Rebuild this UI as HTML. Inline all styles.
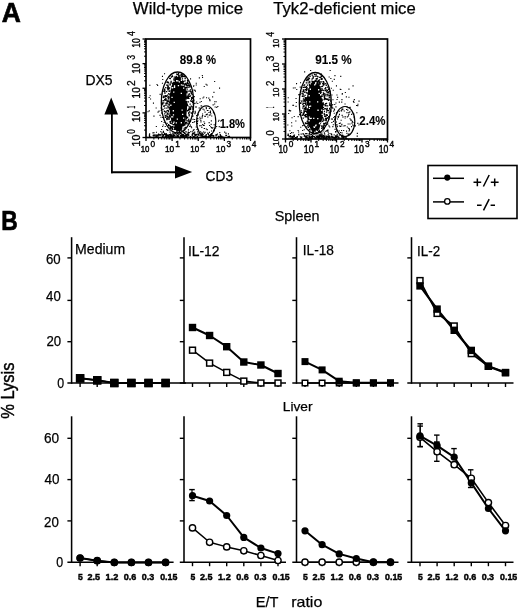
<!DOCTYPE html>
<html><head><meta charset="utf-8"><style>
html,body{margin:0;padding:0;background:#fff;width:520px;height:610px;overflow:hidden}
svg{display:block;filter:grayscale(1)}
text{font-family:"Liberation Sans", sans-serif;fill:#000}
</style></head><body>
<svg width="520" height="610" viewBox="0 0 520 610">
<text x="1.70" y="21.80" font-size="28.36" font-weight="bold" textLength="19.09" lengthAdjust="spacingAndGlyphs" stroke="#000" stroke-width="0.7" >A</text>
<text x="132.80" y="13.96" font-size="16.09" textLength="110.19" lengthAdjust="spacingAndGlyphs" stroke="#000" stroke-width="0.25" >Wild-type mice</text>
<text x="273.30" y="13.96" font-size="16.09" textLength="142.38" lengthAdjust="spacingAndGlyphs" stroke="#000" stroke-width="0.25" >Tyk2-deficient mice</text>
<ellipse cx="178.3" cy="104" rx="8.8" ry="27.5" fill="#000"/>
<path d="M176.0 106.1h1.3v1.3h-1.3zM191.2 100.4h1.3v1.3h-1.3zM177.8 107.8h1.3v1.3h-1.3zM167.3 103.2h1.3v1.3h-1.3zM181.7 120.4h1.3v1.3h-1.3zM164.3 90.5h1.3v1.3h-1.3zM182.5 109.5h1.3v1.3h-1.3zM178.4 75.6h1.3v1.3h-1.3zM167.5 86.8h1.3v1.3h-1.3zM162.3 100.3h1.3v1.3h-1.3zM175.6 123.4h1.3v1.3h-1.3zM178.1 111.1h1.3v1.3h-1.3zM177.5 112.4h1.3v1.3h-1.3zM176.1 89.0h1.3v1.3h-1.3zM188.5 115.2h1.3v1.3h-1.3zM171.5 86.0h1.3v1.3h-1.3zM170.7 76.3h1.3v1.3h-1.3zM186.1 96.4h1.3v1.3h-1.3zM188.7 95.6h1.3v1.3h-1.3zM190.8 100.7h1.3v1.3h-1.3zM163.7 110.4h1.3v1.3h-1.3zM186.5 88.5h1.3v1.3h-1.3zM164.1 92.3h1.3v1.3h-1.3zM165.1 87.0h1.3v1.3h-1.3zM187.1 82.8h1.3v1.3h-1.3zM179.4 99.3h1.3v1.3h-1.3zM167.5 116.6h1.3v1.3h-1.3zM165.5 111.3h1.3v1.3h-1.3zM165.1 97.7h1.3v1.3h-1.3zM168.2 88.5h1.3v1.3h-1.3zM171.2 126.0h1.3v1.3h-1.3zM168.1 96.1h1.3v1.3h-1.3zM189.0 111.2h1.3v1.3h-1.3zM168.2 87.8h1.3v1.3h-1.3zM186.3 92.1h1.3v1.3h-1.3zM170.9 76.5h1.3v1.3h-1.3zM164.2 107.5h1.3v1.3h-1.3zM169.2 108.7h1.3v1.3h-1.3zM173.3 99.6h1.3v1.3h-1.3zM192.4 101.5h1.3v1.3h-1.3zM179.9 124.9h1.3v1.3h-1.3zM167.2 81.4h1.3v1.3h-1.3zM169.4 83.6h1.3v1.3h-1.3zM189.9 108.8h1.3v1.3h-1.3zM175.0 78.3h1.3v1.3h-1.3zM169.0 115.0h1.3v1.3h-1.3zM169.6 122.2h1.3v1.3h-1.3zM180.6 89.9h1.3v1.3h-1.3zM167.0 115.9h1.3v1.3h-1.3zM179.4 124.0h1.3v1.3h-1.3zM181.2 89.1h1.3v1.3h-1.3zM175.7 75.7h1.3v1.3h-1.3zM167.0 94.5h1.3v1.3h-1.3zM179.8 80.0h1.3v1.3h-1.3zM173.0 126.3h1.3v1.3h-1.3zM183.7 107.7h1.3v1.3h-1.3zM176.9 116.6h1.3v1.3h-1.3zM163.7 105.3h1.3v1.3h-1.3zM185.2 126.9h1.3v1.3h-1.3zM185.2 114.9h1.3v1.3h-1.3zM172.7 113.8h1.3v1.3h-1.3zM174.8 120.2h1.3v1.3h-1.3zM189.3 106.9h1.3v1.3h-1.3zM181.5 95.3h1.3v1.3h-1.3zM180.2 109.1h1.3v1.3h-1.3zM163.9 111.0h1.3v1.3h-1.3zM184.9 95.7h1.3v1.3h-1.3zM185.1 107.4h1.3v1.3h-1.3zM175.6 123.1h1.3v1.3h-1.3zM162.3 108.7h1.3v1.3h-1.3zM176.9 86.0h1.3v1.3h-1.3zM183.9 102.3h1.3v1.3h-1.3zM181.2 128.1h1.3v1.3h-1.3zM171.1 113.4h1.3v1.3h-1.3zM167.9 82.3h1.3v1.3h-1.3zM190.6 112.3h1.3v1.3h-1.3zM175.6 126.4h1.3v1.3h-1.3zM171.9 112.6h1.3v1.3h-1.3zM167.7 98.3h1.3v1.3h-1.3zM189.8 95.4h1.3v1.3h-1.3zM180.2 91.3h1.3v1.3h-1.3zM165.7 102.3h1.3v1.3h-1.3zM170.3 82.3h1.3v1.3h-1.3zM175.9 88.8h1.3v1.3h-1.3zM168.2 97.3h1.3v1.3h-1.3zM181.6 102.1h1.3v1.3h-1.3zM171.5 123.2h1.3v1.3h-1.3zM193.1 99.6h1.3v1.3h-1.3zM184.3 106.8h1.3v1.3h-1.3zM171.3 120.3h1.3v1.3h-1.3zM176.0 73.5h1.3v1.3h-1.3zM188.2 86.5h1.3v1.3h-1.3zM181.7 99.2h1.3v1.3h-1.3zM181.7 112.0h1.3v1.3h-1.3zM183.5 84.2h1.3v1.3h-1.3zM176.7 82.9h1.3v1.3h-1.3zM184.4 82.9h1.3v1.3h-1.3zM170.1 93.1h1.3v1.3h-1.3zM183.9 103.7h1.3v1.3h-1.3zM181.2 118.1h1.3v1.3h-1.3zM174.0 120.3h1.3v1.3h-1.3zM165.5 99.7h1.3v1.3h-1.3zM181.6 127.5h1.3v1.3h-1.3zM173.5 106.7h1.3v1.3h-1.3zM189.8 120.6h1.3v1.3h-1.3zM191.9 100.3h1.3v1.3h-1.3zM182.4 84.5h1.3v1.3h-1.3zM184.7 121.9h1.3v1.3h-1.3zM182.1 115.8h1.3v1.3h-1.3zM178.7 120.2h1.3v1.3h-1.3zM171.7 127.5h1.3v1.3h-1.3zM189.0 93.3h1.3v1.3h-1.3zM164.0 98.9h1.3v1.3h-1.3zM179.1 118.9h1.3v1.3h-1.3zM177.1 73.7h1.3v1.3h-1.3zM187.2 82.5h1.3v1.3h-1.3zM172.2 120.1h1.3v1.3h-1.3zM178.0 116.1h1.3v1.3h-1.3zM188.5 114.1h1.3v1.3h-1.3zM191.9 102.0h1.3v1.3h-1.3zM168.5 104.1h1.3v1.3h-1.3zM170.7 116.5h1.3v1.3h-1.3zM182.0 103.9h1.3v1.3h-1.3zM188.6 106.2h1.3v1.3h-1.3zM171.4 95.3h1.3v1.3h-1.3zM168.0 123.9h1.3v1.3h-1.3zM192.7 104.0h1.3v1.3h-1.3zM179.9 84.3h1.3v1.3h-1.3zM178.7 102.7h1.3v1.3h-1.3zM180.9 73.7h1.3v1.3h-1.3zM192.7 103.5h1.3v1.3h-1.3zM174.3 120.9h1.3v1.3h-1.3zM179.5 102.0h1.3v1.3h-1.3zM183.7 76.0h1.3v1.3h-1.3zM178.8 97.2h1.3v1.3h-1.3zM170.0 100.9h1.3v1.3h-1.3zM165.4 98.5h1.3v1.3h-1.3zM176.7 91.4h1.3v1.3h-1.3zM167.5 109.7h1.3v1.3h-1.3zM167.6 85.9h1.3v1.3h-1.3zM183.6 91.6h1.3v1.3h-1.3zM172.8 109.8h1.3v1.3h-1.3zM164.7 116.6h1.3v1.3h-1.3zM165.3 103.1h1.3v1.3h-1.3zM169.4 84.1h1.3v1.3h-1.3zM178.5 98.6h1.3v1.3h-1.3zM173.5 97.2h1.3v1.3h-1.3zM178.5 81.7h1.3v1.3h-1.3zM167.9 110.5h1.3v1.3h-1.3zM182.0 104.3h1.3v1.3h-1.3zM188.9 109.3h1.3v1.3h-1.3zM189.1 86.2h1.3v1.3h-1.3zM185.3 121.4h1.3v1.3h-1.3zM190.5 91.3h1.3v1.3h-1.3zM171.5 128.3h1.3v1.3h-1.3zM169.1 116.3h1.3v1.3h-1.3zM169.7 77.9h1.3v1.3h-1.3zM188.3 97.7h1.3v1.3h-1.3zM186.9 79.7h1.3v1.3h-1.3zM174.4 113.8h1.3v1.3h-1.3zM183.4 127.6h1.3v1.3h-1.3zM177.7 118.2h1.3v1.3h-1.3zM177.6 113.8h1.3v1.3h-1.3zM179.2 103.4h1.3v1.3h-1.3zM179.7 80.9h1.3v1.3h-1.3zM167.3 84.4h1.3v1.3h-1.3zM176.3 118.6h1.3v1.3h-1.3zM171.9 100.5h1.3v1.3h-1.3zM178.0 98.2h1.3v1.3h-1.3zM184.0 123.5h1.3v1.3h-1.3zM167.2 99.7h1.3v1.3h-1.3zM185.3 96.7h1.3v1.3h-1.3zM167.6 82.1h1.3v1.3h-1.3zM177.9 72.9h1.3v1.3h-1.3zM184.1 124.5h1.3v1.3h-1.3zM181.7 96.7h1.3v1.3h-1.3zM180.7 102.8h1.3v1.3h-1.3zM169.7 127.6h1.3v1.3h-1.3zM185.4 119.5h1.3v1.3h-1.3zM187.7 96.7h1.3v1.3h-1.3zM183.8 118.8h1.3v1.3h-1.3zM186.1 96.8h1.3v1.3h-1.3zM184.7 76.3h1.3v1.3h-1.3zM172.4 100.6h1.3v1.3h-1.3zM182.0 110.1h1.3v1.3h-1.3zM182.9 92.6h1.3v1.3h-1.3zM182.7 106.7h1.3v1.3h-1.3zM178.6 95.8h1.3v1.3h-1.3zM184.0 118.5h1.3v1.3h-1.3zM181.2 117.1h1.3v1.3h-1.3zM169.6 96.5h1.3v1.3h-1.3zM173.5 78.0h1.3v1.3h-1.3zM169.4 127.2h1.3v1.3h-1.3zM179.1 103.0h1.3v1.3h-1.3zM192.6 106.6h1.3v1.3h-1.3zM180.7 118.3h1.3v1.3h-1.3zM166.5 100.8h1.3v1.3h-1.3zM166.8 102.2h1.3v1.3h-1.3zM181.1 75.6h1.3v1.3h-1.3zM191.9 97.7h1.3v1.3h-1.3zM178.4 108.5h1.3v1.3h-1.3zM173.1 89.4h1.3v1.3h-1.3zM182.5 106.2h1.3v1.3h-1.3zM170.5 115.7h1.3v1.3h-1.3zM166.4 118.0h1.3v1.3h-1.3zM173.9 126.8h1.3v1.3h-1.3zM175.2 101.1h1.3v1.3h-1.3zM178.3 129.2h1.3v1.3h-1.3zM184.7 100.6h1.3v1.3h-1.3zM180.9 79.0h1.3v1.3h-1.3zM181.5 99.8h1.3v1.3h-1.3zM178.4 79.6h1.3v1.3h-1.3zM175.6 112.7h1.3v1.3h-1.3zM176.1 88.0h1.3v1.3h-1.3zM180.2 97.6h1.3v1.3h-1.3zM186.5 104.4h1.3v1.3h-1.3zM185.1 86.5h1.3v1.3h-1.3zM186.7 110.1h1.3v1.3h-1.3zM172.9 88.6h1.3v1.3h-1.3zM183.5 106.5h1.3v1.3h-1.3zM180.5 110.6h1.3v1.3h-1.3zM185.7 83.6h1.3v1.3h-1.3zM170.1 97.9h1.3v1.3h-1.3zM181.5 78.3h1.3v1.3h-1.3zM178.8 76.4h1.3v1.3h-1.3zM164.1 113.3h1.3v1.3h-1.3zM179.1 110.5h1.3v1.3h-1.3zM173.4 101.2h1.3v1.3h-1.3zM168.1 93.0h1.3v1.3h-1.3zM185.4 123.2h1.3v1.3h-1.3zM187.5 110.0h1.3v1.3h-1.3zM186.2 85.0h1.3v1.3h-1.3zM175.0 87.7h1.3v1.3h-1.3zM187.5 94.5h1.3v1.3h-1.3zM171.8 105.5h1.3v1.3h-1.3zM175.2 94.5h1.3v1.3h-1.3zM179.6 101.6h1.3v1.3h-1.3zM183.5 90.2h1.3v1.3h-1.3zM168.2 112.4h1.3v1.3h-1.3zM163.9 90.5h1.3v1.3h-1.3zM184.8 114.3h1.3v1.3h-1.3zM170.5 80.7h1.3v1.3h-1.3zM172.9 116.3h1.3v1.3h-1.3zM173.2 79.2h1.3v1.3h-1.3zM184.3 106.7h1.3v1.3h-1.3zM190.9 98.7h1.3v1.3h-1.3zM187.3 90.6h1.3v1.3h-1.3zM171.6 96.4h1.3v1.3h-1.3zM169.3 94.1h1.3v1.3h-1.3zM173.1 94.2h1.3v1.3h-1.3zM174.1 95.6h1.3v1.3h-1.3zM167.6 106.4h1.3v1.3h-1.3zM187.1 105.0h1.3v1.3h-1.3zM188.4 106.3h1.3v1.3h-1.3zM167.0 118.3h1.3v1.3h-1.3zM189.8 89.2h1.3v1.3h-1.3zM162.0 103.5h1.3v1.3h-1.3zM178.9 106.6h1.3v1.3h-1.3zM179.0 120.1h1.3v1.3h-1.3zM185.2 126.8h1.3v1.3h-1.3zM164.0 110.7h1.3v1.3h-1.3zM166.0 117.5h1.3v1.3h-1.3zM182.3 87.0h1.3v1.3h-1.3zM168.4 118.7h1.3v1.3h-1.3zM178.2 118.6h1.3v1.3h-1.3zM174.1 92.6h1.3v1.3h-1.3zM177.3 104.8h1.3v1.3h-1.3zM184.7 115.2h1.3v1.3h-1.3zM190.9 97.0h1.3v1.3h-1.3zM188.1 112.7h1.3v1.3h-1.3zM189.0 121.2h1.3v1.3h-1.3zM192.3 111.1h1.3v1.3h-1.3zM178.3 115.3h1.3v1.3h-1.3zM187.3 97.7h1.3v1.3h-1.3zM174.9 80.9h1.3v1.3h-1.3zM173.5 82.2h1.3v1.3h-1.3zM167.9 97.9h1.3v1.3h-1.3zM163.2 90.8h1.3v1.3h-1.3zM165.0 111.5h1.3v1.3h-1.3zM186.4 82.9h1.3v1.3h-1.3zM163.3 100.0h1.3v1.3h-1.3zM180.2 127.5h1.3v1.3h-1.3zM167.3 85.3h1.3v1.3h-1.3zM168.9 115.8h1.3v1.3h-1.3zM180.6 85.7h1.3v1.3h-1.3zM167.3 89.1h1.3v1.3h-1.3zM166.9 118.2h1.3v1.3h-1.3zM171.4 105.4h1.3v1.3h-1.3zM187.8 101.2h1.3v1.3h-1.3zM169.7 126.1h1.3v1.3h-1.3zM190.9 92.9h1.3v1.3h-1.3zM179.0 130.4h1.3v1.3h-1.3zM176.9 85.5h1.3v1.3h-1.3zM187.3 95.5h1.3v1.3h-1.3zM178.4 103.5h1.3v1.3h-1.3zM182.6 86.5h1.3v1.3h-1.3zM173.3 120.6h1.3v1.3h-1.3zM184.4 109.0h1.3v1.3h-1.3zM166.4 81.6h1.3v1.3h-1.3zM171.7 87.8h1.3v1.3h-1.3zM189.5 103.5h1.3v1.3h-1.3zM169.9 104.6h1.3v1.3h-1.3zM166.2 119.0h1.3v1.3h-1.3zM188.7 122.1h1.3v1.3h-1.3zM164.0 88.5h1.3v1.3h-1.3zM184.5 77.9h1.3v1.3h-1.3zM176.9 100.6h1.3v1.3h-1.3zM192.3 107.8h1.3v1.3h-1.3zM189.1 90.5h1.3v1.3h-1.3zM186.9 97.4h1.3v1.3h-1.3zM188.1 84.7h1.3v1.3h-1.3zM178.9 104.1h1.3v1.3h-1.3zM166.4 122.8h1.3v1.3h-1.3zM171.4 91.0h1.3v1.3h-1.3zM163.8 90.6h1.3v1.3h-1.3zM176.4 115.6h1.3v1.3h-1.3zM173.0 113.9h1.3v1.3h-1.3zM164.7 96.0h1.3v1.3h-1.3zM176.3 131.0h1.3v1.3h-1.3zM188.2 111.9h1.3v1.3h-1.3zM184.3 86.5h1.3v1.3h-1.3zM179.6 99.9h1.3v1.3h-1.3zM187.2 84.6h1.3v1.3h-1.3zM181.3 89.7h1.3v1.3h-1.3zM173.5 104.9h1.3v1.3h-1.3zM171.0 92.6h1.3v1.3h-1.3zM174.0 112.7h1.3v1.3h-1.3zM169.6 84.2h1.3v1.3h-1.3zM185.0 92.1h1.3v1.3h-1.3zM191.9 106.3h1.3v1.3h-1.3zM184.8 92.2h1.3v1.3h-1.3zM183.3 115.2h1.3v1.3h-1.3zM167.1 96.5h1.3v1.3h-1.3zM188.4 108.2h1.3v1.3h-1.3zM174.5 76.4h1.3v1.3h-1.3zM191.1 98.0h1.3v1.3h-1.3zM177.9 111.5h1.3v1.3h-1.3zM186.1 122.1h1.3v1.3h-1.3zM173.8 92.2h1.3v1.3h-1.3zM174.3 114.7h1.3v1.3h-1.3zM182.7 109.1h1.3v1.3h-1.3zM172.4 111.7h1.3v1.3h-1.3zM164.7 95.0h1.3v1.3h-1.3zM177.8 120.1h1.3v1.3h-1.3zM188.0 109.3h1.3v1.3h-1.3zM166.4 118.8h1.3v1.3h-1.3zM190.6 105.4h1.3v1.3h-1.3zM172.7 102.5h1.3v1.3h-1.3zM165.9 115.5h1.3v1.3h-1.3zM184.5 123.0h1.3v1.3h-1.3zM181.6 84.1h1.3v1.3h-1.3zM180.0 114.5h1.3v1.3h-1.3zM172.0 128.7h1.3v1.3h-1.3zM173.0 100.2h1.3v1.3h-1.3zM178.9 106.2h1.3v1.3h-1.3zM179.5 88.1h1.3v1.3h-1.3zM187.8 108.7h1.3v1.3h-1.3zM170.6 126.7h1.3v1.3h-1.3zM169.1 107.0h1.3v1.3h-1.3zM188.2 83.3h1.3v1.3h-1.3zM179.1 76.7h1.3v1.3h-1.3zM182.6 90.8h1.3v1.3h-1.3zM183.0 117.0h1.3v1.3h-1.3zM173.7 108.1h1.3v1.3h-1.3zM167.8 100.5h1.3v1.3h-1.3zM165.9 95.6h1.3v1.3h-1.3zM179.8 82.6h1.3v1.3h-1.3zM178.1 88.1h1.3v1.3h-1.3zM179.7 92.3h1.3v1.3h-1.3zM182.1 74.3h1.3v1.3h-1.3zM183.0 80.8h1.3v1.3h-1.3zM192.4 108.6h1.3v1.3h-1.3zM176.5 97.1h1.3v1.3h-1.3zM181.5 114.0h1.3v1.3h-1.3zM185.9 117.9h1.3v1.3h-1.3zM174.6 98.5h1.3v1.3h-1.3zM179.6 127.2h1.3v1.3h-1.3zM178.3 104.0h1.3v1.3h-1.3zM175.3 127.2h1.3v1.3h-1.3zM171.7 75.3h1.3v1.3h-1.3zM184.8 126.9h1.3v1.3h-1.3zM185.0 108.4h1.3v1.3h-1.3zM185.7 90.6h1.3v1.3h-1.3zM180.5 76.3h1.3v1.3h-1.3zM165.3 99.3h1.3v1.3h-1.3zM177.6 96.2h1.3v1.3h-1.3zM178.3 86.6h1.3v1.3h-1.3zM171.2 96.1h1.3v1.3h-1.3zM182.9 124.9h1.3v1.3h-1.3zM175.0 121.1h1.3v1.3h-1.3zM168.5 117.5h1.3v1.3h-1.3zM179.7 127.1h1.3v1.3h-1.3zM165.3 104.8h1.3v1.3h-1.3zM169.2 90.3h1.3v1.3h-1.3zM171.8 75.8h1.3v1.3h-1.3zM174.2 93.7h1.3v1.3h-1.3zM180.3 74.8h1.3v1.3h-1.3zM171.3 102.4h1.3v1.3h-1.3zM176.6 84.6h1.3v1.3h-1.3zM170.9 128.3h1.3v1.3h-1.3zM188.4 93.6h1.3v1.3h-1.3zM176.6 82.5h1.3v1.3h-1.3zM167.8 110.6h1.3v1.3h-1.3zM184.8 91.1h1.3v1.3h-1.3zM184.4 80.2h1.3v1.3h-1.3zM183.8 129.2h1.3v1.3h-1.3zM175.7 76.8h1.3v1.3h-1.3zM168.5 90.7h1.3v1.3h-1.3zM184.3 84.0h1.3v1.3h-1.3zM167.2 86.4h1.3v1.3h-1.3zM182.8 120.2h1.3v1.3h-1.3zM173.4 112.4h1.3v1.3h-1.3zM190.0 108.0h1.3v1.3h-1.3zM168.7 90.4h1.3v1.3h-1.3zM191.3 112.7h1.3v1.3h-1.3zM170.3 111.0h1.3v1.3h-1.3zM175.6 104.2h1.3v1.3h-1.3zM178.5 74.8h1.3v1.3h-1.3zM180.7 89.4h1.3v1.3h-1.3zM169.4 121.0h1.3v1.3h-1.3zM164.1 89.4h1.3v1.3h-1.3zM185.8 87.0h1.3v1.3h-1.3zM170.3 105.4h1.3v1.3h-1.3zM176.3 117.8h1.3v1.3h-1.3zM173.8 128.7h1.3v1.3h-1.3zM177.5 83.0h1.3v1.3h-1.3zM179.3 111.3h1.3v1.3h-1.3zM173.0 112.2h1.3v1.3h-1.3zM186.7 103.5h1.3v1.3h-1.3zM177.7 123.6h1.3v1.3h-1.3zM183.5 103.8h1.3v1.3h-1.3zM186.6 82.1h1.3v1.3h-1.3zM181.0 86.4h1.3v1.3h-1.3zM175.6 119.2h1.3v1.3h-1.3zM186.8 120.3h1.3v1.3h-1.3zM168.9 101.8h1.3v1.3h-1.3zM168.5 107.4h1.3v1.3h-1.3zM177.5 74.2h1.3v1.3h-1.3zM180.6 115.6h1.3v1.3h-1.3zM179.9 125.2h1.3v1.3h-1.3zM167.1 81.3h1.3v1.3h-1.3zM161.9 102.3h1.3v1.3h-1.3zM175.4 98.9h1.3v1.3h-1.3zM169.8 120.7h1.3v1.3h-1.3zM179.7 105.1h1.3v1.3h-1.3zM186.9 86.5h1.3v1.3h-1.3zM166.0 91.0h1.3v1.3h-1.3zM181.4 104.1h1.3v1.3h-1.3zM169.9 107.9h1.3v1.3h-1.3zM166.9 87.5h1.3v1.3h-1.3zM166.5 114.1h1.3v1.3h-1.3zM188.2 120.0h1.3v1.3h-1.3zM163.3 97.0h1.3v1.3h-1.3zM173.1 85.2h1.3v1.3h-1.3zM177.2 118.4h1.3v1.3h-1.3zM176.1 117.4h1.3v1.3h-1.3zM174.0 90.2h1.3v1.3h-1.3zM175.1 76.7h1.3v1.3h-1.3zM186.0 116.8h1.3v1.3h-1.3zM168.7 87.4h1.3v1.3h-1.3zM179.2 86.7h1.3v1.3h-1.3zM176.3 128.9h1.3v1.3h-1.3zM173.1 92.6h1.3v1.3h-1.3zM162.6 96.6h1.3v1.3h-1.3zM182.4 75.6h1.3v1.3h-1.3zM172.4 114.4h1.3v1.3h-1.3zM189.3 108.0h1.3v1.3h-1.3zM190.0 100.2h1.3v1.3h-1.3zM174.0 123.4h1.3v1.3h-1.3zM173.6 119.7h1.3v1.3h-1.3zM168.3 93.2h1.3v1.3h-1.3zM167.2 105.5h1.3v1.3h-1.3zM166.6 84.4h1.3v1.3h-1.3zM168.2 100.5h1.3v1.3h-1.3zM171.3 99.3h1.3v1.3h-1.3zM189.3 84.5h1.3v1.3h-1.3zM173.7 76.4h1.3v1.3h-1.3zM183.7 94.1h1.3v1.3h-1.3zM167.2 88.0h1.3v1.3h-1.3zM174.0 128.3h1.3v1.3h-1.3zM184.5 88.4h1.3v1.3h-1.3zM173.0 81.4h1.3v1.3h-1.3zM191.6 93.9h1.3v1.3h-1.3zM186.1 116.1h1.3v1.3h-1.3zM171.7 95.4h1.3v1.3h-1.3zM171.8 119.0h1.3v1.3h-1.3zM178.1 75.3h1.3v1.3h-1.3zM174.1 86.5h1.3v1.3h-1.3zM180.6 73.9h1.3v1.3h-1.3zM171.4 97.9h1.3v1.3h-1.3zM178.9 80.3h1.3v1.3h-1.3zM184.2 87.9h1.3v1.3h-1.3zM184.8 112.6h1.3v1.3h-1.3zM166.1 84.5h1.3v1.3h-1.3zM170.4 115.5h1.3v1.3h-1.3zM174.4 95.6h1.3v1.3h-1.3zM189.4 85.8h1.3v1.3h-1.3zM170.8 93.0h1.3v1.3h-1.3zM179.6 121.3h1.3v1.3h-1.3zM183.0 128.1h1.3v1.3h-1.3zM168.3 114.0h1.3v1.3h-1.3zM182.9 130.3h1.3v1.3h-1.3zM189.4 86.3h1.3v1.3h-1.3zM181.8 77.5h1.3v1.3h-1.3zM175.2 95.9h1.3v1.3h-1.3zM163.2 95.4h1.3v1.3h-1.3zM171.9 102.3h1.3v1.3h-1.3zM170.4 81.7h1.3v1.3h-1.3zM174.3 101.0h1.3v1.3h-1.3zM166.7 112.6h1.3v1.3h-1.3zM169.1 77.7h1.3v1.3h-1.3zM172.4 97.8h1.3v1.3h-1.3zM166.2 107.5h1.3v1.3h-1.3zM184.0 105.7h1.3v1.3h-1.3zM174.0 94.2h1.3v1.3h-1.3zM163.3 96.7h1.3v1.3h-1.3zM163.1 102.2h1.3v1.3h-1.3zM180.3 100.6h1.3v1.3h-1.3zM171.8 87.5h1.3v1.3h-1.3zM190.2 106.5h1.3v1.3h-1.3zM169.8 112.8h1.3v1.3h-1.3zM167.3 100.6h1.3v1.3h-1.3zM181.2 130.2h1.3v1.3h-1.3zM173.0 107.1h1.3v1.3h-1.3zM181.6 109.9h1.3v1.3h-1.3zM174.6 97.3h1.3v1.3h-1.3zM170.2 122.6h1.3v1.3h-1.3zM189.8 95.3h1.3v1.3h-1.3zM165.7 102.9h1.3v1.3h-1.3zM171.3 94.0h1.3v1.3h-1.3zM167.5 85.9h1.3v1.3h-1.3zM183.3 86.3h1.3v1.3h-1.3zM174.1 86.6h1.3v1.3h-1.3zM177.3 111.7h1.3v1.3h-1.3zM179.1 110.1h1.3v1.3h-1.3zM179.5 122.7h1.3v1.3h-1.3zM172.5 126.1h1.3v1.3h-1.3zM171.5 115.7h1.3v1.3h-1.3zM183.8 113.9h1.3v1.3h-1.3zM166.5 109.9h1.3v1.3h-1.3zM177.2 106.4h1.3v1.3h-1.3zM173.3 89.4h1.3v1.3h-1.3zM185.6 104.6h1.3v1.3h-1.3zM169.0 87.2h1.3v1.3h-1.3zM171.8 82.8h1.3v1.3h-1.3zM177.9 79.7h1.3v1.3h-1.3zM164.6 115.0h1.3v1.3h-1.3zM165.0 99.5h1.3v1.3h-1.3zM186.3 101.3h1.3v1.3h-1.3zM169.5 103.0h1.3v1.3h-1.3zM187.1 95.9h1.3v1.3h-1.3zM184.5 87.4h1.3v1.3h-1.3zM184.5 91.9h1.3v1.3h-1.3zM172.1 118.3h1.3v1.3h-1.3zM188.6 122.5h1.3v1.3h-1.3zM179.7 97.7h1.3v1.3h-1.3zM184.2 110.0h1.3v1.3h-1.3zM188.2 120.9h1.3v1.3h-1.3zM165.4 95.0h1.3v1.3h-1.3zM183.0 86.1h1.3v1.3h-1.3zM180.3 129.4h1.3v1.3h-1.3zM183.6 97.6h1.3v1.3h-1.3zM181.8 96.2h1.3v1.3h-1.3zM170.6 116.6h1.3v1.3h-1.3zM178.9 101.5h1.3v1.3h-1.3zM173.4 90.9h1.3v1.3h-1.3zM187.2 123.2h1.3v1.3h-1.3zM170.5 95.9h1.3v1.3h-1.3zM181.3 118.7h1.3v1.3h-1.3zM183.8 105.3h1.3v1.3h-1.3zM187.2 81.0h1.3v1.3h-1.3zM177.1 79.3h1.3v1.3h-1.3zM179.6 80.8h1.3v1.3h-1.3zM181.6 88.7h1.3v1.3h-1.3zM168.7 101.4h1.3v1.3h-1.3zM173.2 87.8h1.3v1.3h-1.3zM190.2 90.9h1.3v1.3h-1.3zM167.9 124.9h1.3v1.3h-1.3zM177.0 97.3h1.3v1.3h-1.3zM187.4 96.2h1.3v1.3h-1.3zM163.2 105.6h1.3v1.3h-1.3zM182.6 110.0h1.3v1.3h-1.3zM175.7 122.9h1.3v1.3h-1.3zM184.8 82.7h1.3v1.3h-1.3zM172.9 118.0h1.3v1.3h-1.3zM171.3 103.4h1.3v1.3h-1.3zM178.4 121.4h1.3v1.3h-1.3zM187.0 116.9h1.3v1.3h-1.3zM174.2 121.0h1.3v1.3h-1.3zM188.1 118.8h1.3v1.3h-1.3zM192.1 96.5h1.3v1.3h-1.3zM184.2 87.3h1.3v1.3h-1.3zM180.0 85.9h1.3v1.3h-1.3zM173.9 94.5h1.3v1.3h-1.3zM182.6 121.5h1.3v1.3h-1.3zM173.1 110.9h1.3v1.3h-1.3zM172.8 89.0h1.3v1.3h-1.3zM190.6 91.6h1.3v1.3h-1.3zM164.4 92.4h1.3v1.3h-1.3zM185.3 84.9h1.3v1.3h-1.3zM194.7 111.8h1.1v1.1h-1.1zM157.1 85.0h1.1v1.1h-1.1zM160.7 109.8h1.1v1.1h-1.1zM198.3 133.4h1.1v1.1h-1.1zM155.9 131.7h1.1v1.1h-1.1zM202.4 97.4h1.1v1.1h-1.1zM193.4 89.5h1.1v1.1h-1.1zM162.1 117.0h1.1v1.1h-1.1zM174.8 136.3h1.3v1.3h-1.3zM194.2 120.9h1.1v1.1h-1.1zM193.0 85.7h1.1v1.1h-1.1zM150.0 98.4h1.1v1.1h-1.1zM195.7 84.5h1.1v1.1h-1.1zM158.0 133.4h1.1v1.1h-1.1zM156.5 84.0h1.1v1.1h-1.1zM215.3 134.2h1.3v1.3h-1.3zM183.7 135.3h1.3v1.3h-1.3zM194.4 89.8h1.1v1.1h-1.1zM185.2 136.2h1.3v1.3h-1.3zM161.6 93.5h1.1v1.1h-1.1zM196.1 101.4h1.1v1.1h-1.1zM199.6 109.6h1.1v1.1h-1.1zM190.3 131.1h1.1v1.1h-1.1zM155.8 125.9h1.1v1.1h-1.1zM166.3 134.0h1.3v1.3h-1.3zM180.2 134.5h1.3v1.3h-1.3zM190.0 78.3h1.1v1.1h-1.1zM202.3 133.3h1.1v1.1h-1.1zM162.9 131.3h1.1v1.1h-1.1zM205.5 83.7h1.1v1.1h-1.1zM197.8 114.3h1.1v1.1h-1.1zM215.6 101.2h1.1v1.1h-1.1zM192.5 118.8h1.1v1.1h-1.1zM162.1 126.0h1.1v1.1h-1.1zM188.4 133.4h1.1v1.1h-1.1zM162.3 89.5h1.1v1.1h-1.1zM189.8 124.6h1.1v1.1h-1.1zM205.7 114.1h1.1v1.1h-1.1zM206.0 97.2h1.1v1.1h-1.1zM197.1 131.3h1.1v1.1h-1.1zM191.1 127.2h1.1v1.1h-1.1zM195.0 106.4h1.1v1.1h-1.1zM162.7 124.5h1.1v1.1h-1.1zM201.8 74.9h1.1v1.1h-1.1zM187.9 129.3h1.1v1.1h-1.1zM161.9 82.7h1.1v1.1h-1.1zM192.2 115.9h1.1v1.1h-1.1zM162.2 79.0h1.1v1.1h-1.1zM195.3 102.7h1.1v1.1h-1.1zM148.7 110.3h1.1v1.1h-1.1zM203.4 121.2h1.1v1.1h-1.1zM194.1 119.0h1.1v1.1h-1.1zM149.3 84.7h1.1v1.1h-1.1zM166.1 129.0h1.1v1.1h-1.1zM155.6 107.4h1.1v1.1h-1.1zM200.4 121.3h1.1v1.1h-1.1zM196.9 118.1h1.1v1.1h-1.1zM148.6 97.0h1.1v1.1h-1.1zM199.6 98.2h1.1v1.1h-1.1zM198.0 133.6h1.3v1.3h-1.3zM149.6 95.2h1.1v1.1h-1.1zM152.9 102.6h1.1v1.1h-1.1zM164.0 73.2h1.1v1.1h-1.1zM157.5 111.6h1.1v1.1h-1.1zM160.3 131.1h1.1v1.1h-1.1zM196.4 129.0h1.1v1.1h-1.1zM187.7 131.5h1.1v1.1h-1.1zM164.7 125.9h1.1v1.1h-1.1zM202.1 123.9h1.1v1.1h-1.1zM162.8 130.7h1.1v1.1h-1.1zM161.1 120.9h1.1v1.1h-1.1zM199.3 116.7h1.1v1.1h-1.1zM200.8 101.0h1.1v1.1h-1.1zM183.8 132.0h1.1v1.1h-1.1zM203.7 86.0h1.1v1.1h-1.1zM199.4 101.7h1.1v1.1h-1.1zM189.2 126.0h1.1v1.1h-1.1zM195.7 82.7h1.1v1.1h-1.1zM161.9 75.8h1.1v1.1h-1.1zM209.0 124.9h1.1v1.1h-1.1zM162.7 135.0h1.3v1.3h-1.3zM163.2 132.0h1.1v1.1h-1.1zM193.8 103.0h1.1v1.1h-1.1zM196.1 114.9h1.1v1.1h-1.1zM199.3 107.5h1.1v1.1h-1.1zM193.3 85.2h1.1v1.1h-1.1zM161.0 112.4h1.1v1.1h-1.1zM195.9 106.5h1.1v1.1h-1.1zM167.5 135.0h1.3v1.3h-1.3zM213.4 91.8h1.1v1.1h-1.1zM208.3 97.6h1.1v1.1h-1.1zM198.8 77.3h1.1v1.1h-1.1zM194.3 113.2h1.1v1.1h-1.1zM160.9 95.5h1.1v1.1h-1.1zM202.0 76.8h1.1v1.1h-1.1zM160.5 107.5h1.1v1.1h-1.1zM202.0 113.4h1.1v1.1h-1.1zM177.1 134.7h1.3v1.3h-1.3zM199.1 125.2h1.1v1.1h-1.1zM214.1 80.9h1.1v1.1h-1.1zM159.6 93.8h1.1v1.1h-1.1zM153.4 115.6h1.1v1.1h-1.1zM194.6 112.4h1.1v1.1h-1.1zM209.4 100.1h1.1v1.1h-1.1zM192.2 133.0h1.1v1.1h-1.1zM192.1 131.3h1.1v1.1h-1.1zM194.9 90.7h1.1v1.1h-1.1zM190.6 126.1h1.1v1.1h-1.1zM161.2 104.6h1.1v1.1h-1.1zM160.4 116.7h1.1v1.1h-1.1zM158.5 110.6h1.1v1.1h-1.1zM159.5 114.8h1.1v1.1h-1.1zM163.6 121.9h1.1v1.1h-1.1zM203.3 96.4h1.1v1.1h-1.1zM195.7 126.5h1.1v1.1h-1.1zM168.4 129.7h1.1v1.1h-1.1zM147.4 111.2h1.1v1.1h-1.1zM194.6 110.7h1.1v1.1h-1.1zM176.3 134.2h1.3v1.3h-1.3zM192.1 122.0h1.1v1.1h-1.1zM183.2 111.6h1.3v1.3h-1.3zM219.0 87.6h1.1v1.1h-1.1zM180.4 74.6h1.3v1.3h-1.3zM206.5 84.6h1.1v1.1h-1.1zM208.6 122.1h1.1v1.1h-1.1zM166.6 129.0h1.1v1.1h-1.1zM184.9 97.3h1.3v1.3h-1.3zM188.6 131.9h1.1v1.1h-1.1zM183.8 101.1h1.3v1.3h-1.3zM169.3 124.9h1.3v1.3h-1.3zM205.8 108.1h1.1v1.1h-1.1zM197.2 102.9h1.1v1.1h-1.1zM215.1 127.3h1.1v1.1h-1.1zM219.2 132.1h1.1v1.1h-1.1zM211.0 127.1h1.1v1.1h-1.1zM211.7 127.6h1.1v1.1h-1.1zM214.2 101.2h1.1v1.1h-1.1zM214.6 106.5h1.1v1.1h-1.1zM198.6 132.2h1.1v1.1h-1.1zM192.3 115.2h1.1v1.1h-1.1zM201.3 126.8h1.1v1.1h-1.1zM208.9 131.8h1.1v1.1h-1.1zM217.9 120.7h1.1v1.1h-1.1zM193.5 121.7h1.1v1.1h-1.1zM194.8 134.8h1.3v1.3h-1.3zM216.2 106.8h1.1v1.1h-1.1zM196.9 122.8h1.1v1.1h-1.1zM213.0 134.9h1.3v1.3h-1.3zM209.2 99.1h1.1v1.1h-1.1zM212.1 96.3h1.1v1.1h-1.1zM216.1 125.9h1.1v1.1h-1.1zM213.8 130.2h1.1v1.1h-1.1zM207.7 133.1h1.1v1.1h-1.1zM209.7 114.4h1.1v1.1h-1.1zM202.5 108.6h1.1v1.1h-1.1zM192.3 100.6h1.3v1.3h-1.3zM214.1 103.4h1.1v1.1h-1.1zM210.1 126.2h1.1v1.1h-1.1zM211.2 115.4h1.1v1.1h-1.1zM200.6 105.3h1.1v1.1h-1.1zM197.0 120.9h1.1v1.1h-1.1zM211.0 133.1h1.1v1.1h-1.1zM201.0 132.5h1.1v1.1h-1.1zM217.3 106.0h1.1v1.1h-1.1zM218.5 119.7h1.1v1.1h-1.1zM218.7 126.1h1.1v1.1h-1.1zM201.1 105.5h1.1v1.1h-1.1zM206.4 114.2h1.1v1.1h-1.1zM192.7 129.8h1.1v1.1h-1.1zM206.7 113.6h1.1v1.1h-1.1zM212.6 104.3h1.1v1.1h-1.1zM197.3 118.1h1.1v1.1h-1.1zM198.5 107.5h1.1v1.1h-1.1zM193.7 96.1h1.1v1.1h-1.1zM201.7 115.8h1.1v1.1h-1.1zM225.3 134.8h1.3v1.3h-1.3zM180.9 134.4h1.3v1.3h-1.3zM166.8 130.0h1.1v1.1h-1.1zM157.5 135.4h1.3v1.3h-1.3zM183.0 134.8h1.3v1.3h-1.3zM193.0 132.4h1.1v1.1h-1.1zM200.1 131.3h1.1v1.1h-1.1zM168.1 134.4h1.3v1.3h-1.3zM191.9 133.3h1.1v1.1h-1.1zM163.0 136.4h1.3v1.3h-1.3zM210.3 135.1h1.3v1.3h-1.3zM192.7 136.0h1.3v1.3h-1.3zM169.9 135.7h1.3v1.3h-1.3zM173.7 132.4h1.1v1.1h-1.1zM210.4 134.1h1.3v1.3h-1.3zM184.9 133.2h1.1v1.1h-1.1zM183.0 134.2h1.3v1.3h-1.3zM225.8 134.7h1.3v1.3h-1.3zM220.4 135.6h1.3v1.3h-1.3zM169.6 136.2h1.3v1.3h-1.3zM204.4 135.2h1.3v1.3h-1.3zM182.4 136.0h1.3v1.3h-1.3zM194.5 136.4h1.3v1.3h-1.3zM200.8 133.9h1.3v1.3h-1.3zM203.4 135.9h1.3v1.3h-1.3zM205.8 136.0h1.3v1.3h-1.3zM158.0 133.7h1.3v1.3h-1.3zM148.9 135.5h1.3v1.3h-1.3zM153.5 134.2h1.3v1.3h-1.3zM156.2 134.7h1.3v1.3h-1.3zM225.7 134.7h1.3v1.3h-1.3zM195.7 134.1h1.3v1.3h-1.3zM173.4 135.2h1.3v1.3h-1.3zM172.4 136.4h1.3v1.3h-1.3zM165.6 134.4h1.3v1.3h-1.3zM181.2 134.2h1.3v1.3h-1.3zM180.2 135.0h1.3v1.3h-1.3zM212.4 135.2h1.3v1.3h-1.3zM205.6 134.1h1.3v1.3h-1.3zM183.3 135.7h1.3v1.3h-1.3zM184.6 135.0h1.3v1.3h-1.3zM181.2 133.2h1.1v1.1h-1.1zM172.4 136.1h1.3v1.3h-1.3zM186.3 133.7h1.3v1.3h-1.3zM219.6 134.1h1.3v1.3h-1.3zM221.1 135.8h1.3v1.3h-1.3zM227.6 135.9h1.3v1.3h-1.3zM202.5 133.9h1.3v1.3h-1.3zM208.3 135.3h1.3v1.3h-1.3zM225.4 132.5h1.1v1.1h-1.1zM201.3 135.1h1.3v1.3h-1.3zM201.1 134.1h1.3v1.3h-1.3zM166.0 136.1h1.3v1.3h-1.3zM227.9 133.3h1.1v1.1h-1.1zM175.5 136.4h1.3v1.3h-1.3zM181.6 136.0h1.3v1.3h-1.3zM210.3 136.3h1.3v1.3h-1.3zM165.6 132.9h1.1v1.1h-1.1zM180.2 134.8h1.3v1.3h-1.3zM222.3 136.4h1.3v1.3h-1.3zM152.4 132.3h1.1v1.1h-1.1zM216.2 134.1h1.3v1.3h-1.3zM179.6 133.0h1.1v1.1h-1.1zM210.0 134.3h1.3v1.3h-1.3zM208.7 134.8h1.3v1.3h-1.3zM205.3 135.6h1.3v1.3h-1.3zM193.5 129.1h1.1v1.1h-1.1zM158.7 134.4h1.3v1.3h-1.3zM211.5 134.6h1.3v1.3h-1.3zM225.4 132.8h1.1v1.1h-1.1zM170.0 133.6h1.3v1.3h-1.3zM188.1 135.2h1.3v1.3h-1.3zM161.2 132.6h1.1v1.1h-1.1zM201.9 132.6h1.1v1.1h-1.1zM171.2 135.6h1.3v1.3h-1.3zM159.4 134.0h1.3v1.3h-1.3zM197.2 133.4h1.1v1.1h-1.1zM228.8 135.7h1.3v1.3h-1.3zM194.2 134.2h1.3v1.3h-1.3zM209.7 135.8h1.3v1.3h-1.3zM153.7 135.3h1.3v1.3h-1.3zM204.1 132.7h1.1v1.1h-1.1zM215.4 135.0h1.3v1.3h-1.3zM176.9 135.1h1.3v1.3h-1.3zM191.6 134.0h1.3v1.3h-1.3zM201.4 136.1h1.3v1.3h-1.3zM159.7 134.5h1.3v1.3h-1.3zM224.1 131.6h1.1v1.1h-1.1zM168.0 135.9h1.3v1.3h-1.3zM154.5 135.3h1.3v1.3h-1.3zM212.6 136.4h1.3v1.3h-1.3zM187.6 134.5h1.3v1.3h-1.3zM204.5 131.8h1.1v1.1h-1.1zM218.0 135.7h1.3v1.3h-1.3zM164.8 135.3h1.3v1.3h-1.3zM175.1 132.6h1.3v1.3h-1.3zM219.5 135.9h1.3v1.3h-1.3zM173.2 133.6h1.3v1.3h-1.3zM183.7 135.2h1.3v1.3h-1.3zM197.5 133.4h1.1v1.1h-1.1zM228.4 136.2h1.3v1.3h-1.3zM198.3 134.7h1.3v1.3h-1.3zM159.8 134.2h1.3v1.3h-1.3zM183.6 136.0h1.3v1.3h-1.3zM182.9 133.8h1.3v1.3h-1.3zM203.0 131.4h1.1v1.1h-1.1zM161.6 134.0h1.3v1.3h-1.3zM165.2 133.3h1.1v1.1h-1.1zM219.9 135.2h1.3v1.3h-1.3zM177.4 135.2h1.3v1.3h-1.3zM166.3 136.3h1.3v1.3h-1.3zM204.5 135.7h1.3v1.3h-1.3zM152.6 134.7h1.3v1.3h-1.3zM195.3 133.8h1.3v1.3h-1.3zM155.3 134.2h1.3v1.3h-1.3zM228.2 135.8h1.3v1.3h-1.3zM196.7 135.9h1.3v1.3h-1.3zM155.9 135.8h1.3v1.3h-1.3zM149.2 136.0h1.3v1.3h-1.3zM169.9 135.0h1.3v1.3h-1.3zM202.2 135.7h1.3v1.3h-1.3zM185.8 134.3h1.3v1.3h-1.3zM171.2 134.2h1.3v1.3h-1.3zM177.0 135.6h1.3v1.3h-1.3zM167.9 136.0h1.3v1.3h-1.3zM148.8 134.5h1.3v1.3h-1.3zM173.0 134.8h1.3v1.3h-1.3zM156.8 135.4h1.3v1.3h-1.3zM216.9 133.4h1.1v1.1h-1.1zM173.1 135.9h1.3v1.3h-1.3zM194.0 132.7h1.1v1.1h-1.1zM163.9 132.9h1.1v1.1h-1.1zM172.1 132.6h1.1v1.1h-1.1zM166.5 134.7h1.3v1.3h-1.3zM162.9 136.4h1.3v1.3h-1.3zM161.8 135.7h1.3v1.3h-1.3zM184.1 129.3h1.3v1.3h-1.3zM177.9 135.8h1.3v1.3h-1.3zM176.5 135.7h1.3v1.3h-1.3zM182.7 131.8h1.1v1.1h-1.1zM175.6 134.3h1.3v1.3h-1.3zM194.2 131.6h1.1v1.1h-1.1zM169.5 131.6h1.1v1.1h-1.1zM177.0 132.6h1.3v1.3h-1.3zM164.4 133.8h1.3v1.3h-1.3zM206.7 129.1h1.1v1.1h-1.1zM198.8 133.2h1.1v1.1h-1.1zM186.2 135.3h1.3v1.3h-1.3zM193.5 135.7h1.3v1.3h-1.3zM166.4 136.2h1.3v1.3h-1.3zM187.6 133.3h1.1v1.1h-1.1zM182.6 136.4h1.3v1.3h-1.3zM179.6 136.5h1.3v1.3h-1.3zM185.2 133.7h1.3v1.3h-1.3zM173.5 135.2h1.3v1.3h-1.3zM149.1 133.3h1.1v1.1h-1.1zM157.3 134.2h1.3v1.3h-1.3zM163.1 134.0h1.3v1.3h-1.3zM184.2 133.0h1.1v1.1h-1.1zM193.2 133.4h1.1v1.1h-1.1zM180.4 132.8h1.1v1.1h-1.1zM166.2 135.6h1.3v1.3h-1.3zM161.3 134.2h1.3v1.3h-1.3zM186.6 136.2h1.3v1.3h-1.3zM172.5 134.5h1.3v1.3h-1.3zM197.2 133.9h1.3v1.3h-1.3zM161.1 128.9h1.1v1.1h-1.1zM171.9 135.9h1.3v1.3h-1.3zM170.9 134.4h1.3v1.3h-1.3zM185.7 131.3h1.1v1.1h-1.1zM177.7 135.3h1.3v1.3h-1.3zM200.1 135.2h1.3v1.3h-1.3zM183.0 134.7h1.3v1.3h-1.3zM185.1 136.1h1.3v1.3h-1.3zM173.1 134.1h1.3v1.3h-1.3zM181.4 134.5h1.3v1.3h-1.3zM165.7 132.9h1.1v1.1h-1.1zM181.1 136.1h1.3v1.3h-1.3zM165.8 135.2h1.3v1.3h-1.3zM181.9 134.1h1.3v1.3h-1.3zM175.7 134.3h1.3v1.3h-1.3zM178.2 133.7h1.3v1.3h-1.3zM194.4 133.9h1.3v1.3h-1.3zM185.1 135.6h1.3v1.3h-1.3zM178.4 133.6h1.3v1.3h-1.3zM188.8 132.0h1.1v1.1h-1.1zM196.6 135.8h1.3v1.3h-1.3zM168.7 134.0h1.3v1.3h-1.3zM174.4 132.5h1.1v1.1h-1.1zM191.6 135.0h1.3v1.3h-1.3zM165.6 133.6h1.3v1.3h-1.3zM180.4 136.2h1.3v1.3h-1.3zM189.9 136.1h1.3v1.3h-1.3zM174.0 134.8h1.3v1.3h-1.3zM153.5 132.2h1.1v1.1h-1.1zM184.0 132.8h1.1v1.1h-1.1zM155.4 136.5h1.3v1.3h-1.3zM168.7 135.5h1.3v1.3h-1.3zM185.2 131.3h1.1v1.1h-1.1zM200.4 133.2h1.1v1.1h-1.1zM185.7 136.0h1.3v1.3h-1.3zM153.0 135.1h1.3v1.3h-1.3zM161.8 132.5h1.1v1.1h-1.1zM178.9 130.9h1.3v1.3h-1.3zM200.4 134.4h1.3v1.3h-1.3zM182.1 134.8h1.3v1.3h-1.3zM180.5 136.3h1.3v1.3h-1.3zM186.6 134.1h1.3v1.3h-1.3zM180.9 135.9h1.3v1.3h-1.3zM187.5 132.6h1.1v1.1h-1.1zM180.6 136.0h1.3v1.3h-1.3zM185.6 134.6h1.3v1.3h-1.3zM179.8 134.9h1.3v1.3h-1.3zM183.2 131.7h1.1v1.1h-1.1zM181.4 134.6h1.3v1.3h-1.3zM165.2 135.7h1.3v1.3h-1.3zM187.4 132.8h1.1v1.1h-1.1zM164.7 136.3h1.3v1.3h-1.3zM205.7 107.1h1.1v1.1h-1.1zM208.4 111.9h1.1v1.1h-1.1zM213.6 124.2h1.1v1.1h-1.1zM204.1 122.8h1.1v1.1h-1.1zM204.0 128.0h1.1v1.1h-1.1zM203.7 128.0h1.1v1.1h-1.1zM202.1 115.0h1.1v1.1h-1.1zM211.0 130.4h1.1v1.1h-1.1zM210.0 134.8h1.3v1.3h-1.3zM200.2 118.2h1.1v1.1h-1.1zM213.0 129.8h1.1v1.1h-1.1zM210.8 132.9h1.1v1.1h-1.1zM203.6 124.8h1.1v1.1h-1.1zM207.7 133.7h1.3v1.3h-1.3zM199.4 118.5h1.1v1.1h-1.1zM207.4 110.0h1.1v1.1h-1.1zM208.7 114.6h1.1v1.1h-1.1zM202.8 124.8h1.1v1.1h-1.1zM200.3 119.9h1.1v1.1h-1.1zM201.6 117.3h1.1v1.1h-1.1zM209.9 111.8h1.1v1.1h-1.1zM212.9 112.1h1.1v1.1h-1.1zM207.3 116.5h1.1v1.1h-1.1zM208.8 107.9h1.1v1.1h-1.1zM210.3 113.2h1.1v1.1h-1.1zM205.8 128.4h1.1v1.1h-1.1zM204.7 115.8h1.1v1.1h-1.1zM204.2 115.7h1.1v1.1h-1.1zM210.8 120.3h1.1v1.1h-1.1zM209.8 110.6h1.1v1.1h-1.1zM200.5 125.1h1.1v1.1h-1.1zM204.5 111.6h1.1v1.1h-1.1zM210.6 123.8h1.1v1.1h-1.1zM197.3 120.2h1.1v1.1h-1.1zM212.4 127.2h1.1v1.1h-1.1zM207.1 132.6h1.1v1.1h-1.1zM203.7 109.4h1.1v1.1h-1.1zM206.8 109.9h1.1v1.1h-1.1z" fill="#000"/>
<path d="M173.3 80.7h1.3v1.3h-1.3zM173.6 101.7h1.3v1.3h-1.3zM172.7 110.1h1.3v1.3h-1.3zM172.8 114.3h1.3v1.3h-1.3zM172.8 122.7h1.3v1.3h-1.3zM177.8 84.9h1.3v1.3h-1.3zM176.7 118.5h1.3v1.3h-1.3zM180.8 84.3h1.3v1.3h-1.3zM180.7 92.7h1.3v1.3h-1.3zM181.5 109.5h1.3v1.3h-1.3zM182.0 113.7h1.3v1.3h-1.3zM180.7 122.1h1.3v1.3h-1.3zM184.8 85.5h1.3v1.3h-1.3zM183.0 87.5h1.3v1.3h-1.3zM171.4 96.7h1.3v1.3h-1.3zM182.4 126.6h1.3v1.3h-1.3zM178.7 81.2h1.3v1.3h-1.3zM171.1 116.3h1.3v1.3h-1.3zM177.2 80.2h1.3v1.3h-1.3zM183.0 117.5h1.3v1.3h-1.3zM182.4 127.2h1.3v1.3h-1.3zM170.2 104.6h1.3v1.3h-1.3zM173.4 121.4h1.3v1.3h-1.3zM182.2 128.5h1.3v1.3h-1.3zM173.1 91.4h1.3v1.3h-1.3zM176.0 80.1h1.3v1.3h-1.3zM172.0 86.9h1.3v1.3h-1.3zM171.6 87.1h1.3v1.3h-1.3zM185.7 99.5h1.3v1.3h-1.3zM173.9 85.3h1.3v1.3h-1.3zM172.0 116.3h1.3v1.3h-1.3zM173.9 85.6h1.3v1.3h-1.3zM173.2 125.3h1.3v1.3h-1.3zM180.8 79.7h1.3v1.3h-1.3zM182.4 84.6h1.3v1.3h-1.3zM173.9 86.8h1.3v1.3h-1.3zM175.7 122.3h1.3v1.3h-1.3zM180.9 78.2h1.3v1.3h-1.3z" fill="#fff"/>
<ellipse cx="177.5" cy="102.5" rx="16.2" ry="30.5" fill="none" stroke="#000" stroke-width="1.3"/>
<ellipse cx="206.2" cy="121.5" rx="9.6" ry="15.6" fill="none" stroke="#000" stroke-width="1.2"/>
<rect x="146" y="39" width="104.5" height="98.5" fill="none" stroke="#000" stroke-width="1.7"/>
<line x1="142.50" y1="137.50" x2="146.00" y2="137.50" stroke="#000" stroke-width="1.3"/>
<line x1="144.00" y1="130.09" x2="146.00" y2="130.09" stroke="#000" stroke-width="1.0"/>
<line x1="144.00" y1="125.75" x2="146.00" y2="125.75" stroke="#000" stroke-width="1.0"/>
<line x1="144.00" y1="122.67" x2="146.00" y2="122.67" stroke="#000" stroke-width="1.0"/>
<line x1="144.00" y1="120.29" x2="146.00" y2="120.29" stroke="#000" stroke-width="1.0"/>
<line x1="144.00" y1="118.34" x2="146.00" y2="118.34" stroke="#000" stroke-width="1.0"/>
<line x1="144.00" y1="116.69" x2="146.00" y2="116.69" stroke="#000" stroke-width="1.0"/>
<line x1="144.00" y1="115.26" x2="146.00" y2="115.26" stroke="#000" stroke-width="1.0"/>
<line x1="144.00" y1="114.00" x2="146.00" y2="114.00" stroke="#000" stroke-width="1.0"/>
<line x1="142.50" y1="112.88" x2="146.00" y2="112.88" stroke="#000" stroke-width="1.3"/>
<line x1="144.00" y1="105.46" x2="146.00" y2="105.46" stroke="#000" stroke-width="1.0"/>
<line x1="144.00" y1="101.13" x2="146.00" y2="101.13" stroke="#000" stroke-width="1.0"/>
<line x1="144.00" y1="98.05" x2="146.00" y2="98.05" stroke="#000" stroke-width="1.0"/>
<line x1="144.00" y1="95.66" x2="146.00" y2="95.66" stroke="#000" stroke-width="1.0"/>
<line x1="144.00" y1="93.71" x2="146.00" y2="93.71" stroke="#000" stroke-width="1.0"/>
<line x1="144.00" y1="92.06" x2="146.00" y2="92.06" stroke="#000" stroke-width="1.0"/>
<line x1="144.00" y1="90.64" x2="146.00" y2="90.64" stroke="#000" stroke-width="1.0"/>
<line x1="144.00" y1="89.38" x2="146.00" y2="89.38" stroke="#000" stroke-width="1.0"/>
<line x1="142.50" y1="88.25" x2="146.00" y2="88.25" stroke="#000" stroke-width="1.3"/>
<line x1="144.00" y1="80.84" x2="146.00" y2="80.84" stroke="#000" stroke-width="1.0"/>
<line x1="144.00" y1="76.50" x2="146.00" y2="76.50" stroke="#000" stroke-width="1.0"/>
<line x1="144.00" y1="73.42" x2="146.00" y2="73.42" stroke="#000" stroke-width="1.0"/>
<line x1="144.00" y1="71.04" x2="146.00" y2="71.04" stroke="#000" stroke-width="1.0"/>
<line x1="144.00" y1="69.09" x2="146.00" y2="69.09" stroke="#000" stroke-width="1.0"/>
<line x1="144.00" y1="67.44" x2="146.00" y2="67.44" stroke="#000" stroke-width="1.0"/>
<line x1="144.00" y1="66.01" x2="146.00" y2="66.01" stroke="#000" stroke-width="1.0"/>
<line x1="144.00" y1="64.75" x2="146.00" y2="64.75" stroke="#000" stroke-width="1.0"/>
<line x1="142.50" y1="63.62" x2="146.00" y2="63.62" stroke="#000" stroke-width="1.3"/>
<line x1="144.00" y1="56.21" x2="146.00" y2="56.21" stroke="#000" stroke-width="1.0"/>
<line x1="144.00" y1="51.88" x2="146.00" y2="51.88" stroke="#000" stroke-width="1.0"/>
<line x1="144.00" y1="48.80" x2="146.00" y2="48.80" stroke="#000" stroke-width="1.0"/>
<line x1="144.00" y1="46.41" x2="146.00" y2="46.41" stroke="#000" stroke-width="1.0"/>
<line x1="144.00" y1="44.46" x2="146.00" y2="44.46" stroke="#000" stroke-width="1.0"/>
<line x1="144.00" y1="42.81" x2="146.00" y2="42.81" stroke="#000" stroke-width="1.0"/>
<line x1="144.00" y1="41.39" x2="146.00" y2="41.39" stroke="#000" stroke-width="1.0"/>
<line x1="144.00" y1="40.13" x2="146.00" y2="40.13" stroke="#000" stroke-width="1.0"/>
<line x1="142.50" y1="39.00" x2="146.00" y2="39.00" stroke="#000" stroke-width="1.3"/>
<line x1="146.00" y1="137.50" x2="146.00" y2="141.00" stroke="#000" stroke-width="1.3"/>
<line x1="153.86" y1="137.50" x2="153.86" y2="139.50" stroke="#000" stroke-width="1.0"/>
<line x1="158.46" y1="137.50" x2="158.46" y2="139.50" stroke="#000" stroke-width="1.0"/>
<line x1="161.73" y1="137.50" x2="161.73" y2="139.50" stroke="#000" stroke-width="1.0"/>
<line x1="164.26" y1="137.50" x2="164.26" y2="139.50" stroke="#000" stroke-width="1.0"/>
<line x1="166.33" y1="137.50" x2="166.33" y2="139.50" stroke="#000" stroke-width="1.0"/>
<line x1="168.08" y1="137.50" x2="168.08" y2="139.50" stroke="#000" stroke-width="1.0"/>
<line x1="169.59" y1="137.50" x2="169.59" y2="139.50" stroke="#000" stroke-width="1.0"/>
<line x1="170.93" y1="137.50" x2="170.93" y2="139.50" stroke="#000" stroke-width="1.0"/>
<line x1="172.12" y1="137.50" x2="172.12" y2="141.00" stroke="#000" stroke-width="1.3"/>
<line x1="179.99" y1="137.50" x2="179.99" y2="139.50" stroke="#000" stroke-width="1.0"/>
<line x1="184.59" y1="137.50" x2="184.59" y2="139.50" stroke="#000" stroke-width="1.0"/>
<line x1="187.85" y1="137.50" x2="187.85" y2="139.50" stroke="#000" stroke-width="1.0"/>
<line x1="190.39" y1="137.50" x2="190.39" y2="139.50" stroke="#000" stroke-width="1.0"/>
<line x1="192.45" y1="137.50" x2="192.45" y2="139.50" stroke="#000" stroke-width="1.0"/>
<line x1="194.20" y1="137.50" x2="194.20" y2="139.50" stroke="#000" stroke-width="1.0"/>
<line x1="195.72" y1="137.50" x2="195.72" y2="139.50" stroke="#000" stroke-width="1.0"/>
<line x1="197.05" y1="137.50" x2="197.05" y2="139.50" stroke="#000" stroke-width="1.0"/>
<line x1="198.25" y1="137.50" x2="198.25" y2="141.00" stroke="#000" stroke-width="1.3"/>
<line x1="206.11" y1="137.50" x2="206.11" y2="139.50" stroke="#000" stroke-width="1.0"/>
<line x1="210.71" y1="137.50" x2="210.71" y2="139.50" stroke="#000" stroke-width="1.0"/>
<line x1="213.98" y1="137.50" x2="213.98" y2="139.50" stroke="#000" stroke-width="1.0"/>
<line x1="216.51" y1="137.50" x2="216.51" y2="139.50" stroke="#000" stroke-width="1.0"/>
<line x1="218.58" y1="137.50" x2="218.58" y2="139.50" stroke="#000" stroke-width="1.0"/>
<line x1="220.33" y1="137.50" x2="220.33" y2="139.50" stroke="#000" stroke-width="1.0"/>
<line x1="221.84" y1="137.50" x2="221.84" y2="139.50" stroke="#000" stroke-width="1.0"/>
<line x1="223.18" y1="137.50" x2="223.18" y2="139.50" stroke="#000" stroke-width="1.0"/>
<line x1="224.38" y1="137.50" x2="224.38" y2="141.00" stroke="#000" stroke-width="1.3"/>
<line x1="232.24" y1="137.50" x2="232.24" y2="139.50" stroke="#000" stroke-width="1.0"/>
<line x1="236.84" y1="137.50" x2="236.84" y2="139.50" stroke="#000" stroke-width="1.0"/>
<line x1="240.10" y1="137.50" x2="240.10" y2="139.50" stroke="#000" stroke-width="1.0"/>
<line x1="242.64" y1="137.50" x2="242.64" y2="139.50" stroke="#000" stroke-width="1.0"/>
<line x1="244.70" y1="137.50" x2="244.70" y2="139.50" stroke="#000" stroke-width="1.0"/>
<line x1="246.45" y1="137.50" x2="246.45" y2="139.50" stroke="#000" stroke-width="1.0"/>
<line x1="247.97" y1="137.50" x2="247.97" y2="139.50" stroke="#000" stroke-width="1.0"/>
<line x1="249.30" y1="137.50" x2="249.30" y2="139.50" stroke="#000" stroke-width="1.0"/>
<line x1="250.50" y1="137.50" x2="250.50" y2="141.00" stroke="#000" stroke-width="1.3"/>
<ellipse cx="314.8" cy="106.5" rx="8.3" ry="26" fill="#000"/>
<path d="M314.5 112.6h1.3v1.3h-1.3zM320.6 81.2h1.3v1.3h-1.3zM308.1 121.9h1.3v1.3h-1.3zM321.4 109.2h1.3v1.3h-1.3zM317.2 112.8h1.3v1.3h-1.3zM303.9 99.3h1.3v1.3h-1.3zM301.7 114.4h1.3v1.3h-1.3zM310.1 97.2h1.3v1.3h-1.3zM315.6 78.0h1.3v1.3h-1.3zM302.9 98.3h1.3v1.3h-1.3zM303.6 91.6h1.3v1.3h-1.3zM319.2 82.5h1.3v1.3h-1.3zM304.8 122.3h1.3v1.3h-1.3zM312.1 98.0h1.3v1.3h-1.3zM318.4 101.6h1.3v1.3h-1.3zM311.6 74.4h1.3v1.3h-1.3zM310.7 94.7h1.3v1.3h-1.3zM321.4 113.6h1.3v1.3h-1.3zM302.9 86.8h1.3v1.3h-1.3zM310.9 103.7h1.3v1.3h-1.3zM325.2 103.0h1.3v1.3h-1.3zM313.1 104.2h1.3v1.3h-1.3zM306.4 98.6h1.3v1.3h-1.3zM311.7 119.6h1.3v1.3h-1.3zM302.6 106.0h1.3v1.3h-1.3zM305.0 114.9h1.3v1.3h-1.3zM310.3 111.4h1.3v1.3h-1.3zM301.0 100.5h1.3v1.3h-1.3zM306.0 89.7h1.3v1.3h-1.3zM314.5 131.0h1.3v1.3h-1.3zM314.7 130.8h1.3v1.3h-1.3zM311.0 84.0h1.3v1.3h-1.3zM323.3 128.1h1.3v1.3h-1.3zM324.0 93.3h1.3v1.3h-1.3zM300.6 110.3h1.3v1.3h-1.3zM315.4 74.0h1.3v1.3h-1.3zM309.6 120.5h1.3v1.3h-1.3zM325.9 111.5h1.3v1.3h-1.3zM306.6 104.7h1.3v1.3h-1.3zM314.6 110.7h1.3v1.3h-1.3zM308.6 125.8h1.3v1.3h-1.3zM315.8 115.0h1.3v1.3h-1.3zM321.9 85.6h1.3v1.3h-1.3zM308.4 88.1h1.3v1.3h-1.3zM321.2 114.8h1.3v1.3h-1.3zM312.8 87.2h1.3v1.3h-1.3zM313.2 132.2h1.3v1.3h-1.3zM317.2 110.6h1.3v1.3h-1.3zM323.6 98.0h1.3v1.3h-1.3zM318.1 127.5h1.3v1.3h-1.3zM324.6 107.9h1.3v1.3h-1.3zM310.4 95.0h1.3v1.3h-1.3zM322.8 106.9h1.3v1.3h-1.3zM316.4 120.6h1.3v1.3h-1.3zM311.4 78.5h1.3v1.3h-1.3zM310.6 91.5h1.3v1.3h-1.3zM329.2 114.5h1.3v1.3h-1.3zM316.6 110.4h1.3v1.3h-1.3zM303.3 105.1h1.3v1.3h-1.3zM321.7 96.5h1.3v1.3h-1.3zM307.2 97.3h1.3v1.3h-1.3zM309.7 114.3h1.3v1.3h-1.3zM309.3 114.9h1.3v1.3h-1.3zM323.6 112.7h1.3v1.3h-1.3zM329.2 94.8h1.3v1.3h-1.3zM300.3 102.3h1.3v1.3h-1.3zM313.5 83.4h1.3v1.3h-1.3zM320.7 93.3h1.3v1.3h-1.3zM306.9 92.5h1.3v1.3h-1.3zM310.8 89.6h1.3v1.3h-1.3zM305.7 98.9h1.3v1.3h-1.3zM315.3 115.1h1.3v1.3h-1.3zM304.5 100.8h1.3v1.3h-1.3zM318.7 123.9h1.3v1.3h-1.3zM307.3 100.5h1.3v1.3h-1.3zM306.6 105.3h1.3v1.3h-1.3zM323.7 96.6h1.3v1.3h-1.3zM320.8 113.0h1.3v1.3h-1.3zM330.4 106.3h1.3v1.3h-1.3zM321.1 93.9h1.3v1.3h-1.3zM322.7 92.2h1.3v1.3h-1.3zM315.3 94.5h1.3v1.3h-1.3zM309.1 80.8h1.3v1.3h-1.3zM306.5 105.7h1.3v1.3h-1.3zM325.0 89.9h1.3v1.3h-1.3zM329.3 109.0h1.3v1.3h-1.3zM311.8 125.8h1.3v1.3h-1.3zM328.0 92.1h1.3v1.3h-1.3zM303.3 111.6h1.3v1.3h-1.3zM326.3 109.6h1.3v1.3h-1.3zM324.4 97.7h1.3v1.3h-1.3zM319.1 88.6h1.3v1.3h-1.3zM312.3 95.7h1.3v1.3h-1.3zM311.6 96.9h1.3v1.3h-1.3zM325.1 82.9h1.3v1.3h-1.3zM305.9 88.0h1.3v1.3h-1.3zM330.4 104.4h1.3v1.3h-1.3zM310.8 117.3h1.3v1.3h-1.3zM309.1 80.9h1.3v1.3h-1.3zM306.1 126.2h1.3v1.3h-1.3zM304.5 116.2h1.3v1.3h-1.3zM308.8 84.1h1.3v1.3h-1.3zM305.2 91.5h1.3v1.3h-1.3zM326.9 109.5h1.3v1.3h-1.3zM302.6 114.3h1.3v1.3h-1.3zM316.5 99.9h1.3v1.3h-1.3zM316.2 112.2h1.3v1.3h-1.3zM324.9 103.3h1.3v1.3h-1.3zM319.6 101.0h1.3v1.3h-1.3zM319.6 96.2h1.3v1.3h-1.3zM312.6 104.0h1.3v1.3h-1.3zM322.2 89.5h1.3v1.3h-1.3zM328.9 102.5h1.3v1.3h-1.3zM326.7 114.6h1.3v1.3h-1.3zM313.0 97.3h1.3v1.3h-1.3zM318.7 118.5h1.3v1.3h-1.3zM302.9 114.3h1.3v1.3h-1.3zM319.0 131.4h1.3v1.3h-1.3zM314.5 85.1h1.3v1.3h-1.3zM323.5 98.3h1.3v1.3h-1.3zM316.7 91.8h1.3v1.3h-1.3zM318.7 130.6h1.3v1.3h-1.3zM329.2 94.6h1.3v1.3h-1.3zM308.8 128.8h1.3v1.3h-1.3zM318.5 113.3h1.3v1.3h-1.3zM314.7 117.1h1.3v1.3h-1.3zM325.7 118.7h1.3v1.3h-1.3zM310.2 95.8h1.3v1.3h-1.3zM314.8 84.4h1.3v1.3h-1.3zM319.3 105.2h1.3v1.3h-1.3zM310.9 86.6h1.3v1.3h-1.3zM311.6 109.9h1.3v1.3h-1.3zM303.4 105.5h1.3v1.3h-1.3zM307.4 98.0h1.3v1.3h-1.3zM302.6 117.5h1.3v1.3h-1.3zM319.5 83.0h1.3v1.3h-1.3zM316.8 108.8h1.3v1.3h-1.3zM317.8 95.6h1.3v1.3h-1.3zM309.2 94.1h1.3v1.3h-1.3zM315.4 100.6h1.3v1.3h-1.3zM304.8 96.9h1.3v1.3h-1.3zM305.9 92.2h1.3v1.3h-1.3zM311.0 93.8h1.3v1.3h-1.3zM329.3 90.6h1.3v1.3h-1.3zM309.9 112.6h1.3v1.3h-1.3zM312.0 104.0h1.3v1.3h-1.3zM320.0 77.0h1.3v1.3h-1.3zM320.8 78.7h1.3v1.3h-1.3zM307.3 121.9h1.3v1.3h-1.3zM304.8 99.2h1.3v1.3h-1.3zM308.3 123.8h1.3v1.3h-1.3zM306.8 84.5h1.3v1.3h-1.3zM319.7 111.4h1.3v1.3h-1.3zM318.2 101.7h1.3v1.3h-1.3zM330.0 100.5h1.3v1.3h-1.3zM329.3 96.4h1.3v1.3h-1.3zM314.2 94.4h1.3v1.3h-1.3zM322.2 118.3h1.3v1.3h-1.3zM307.0 104.6h1.3v1.3h-1.3zM322.5 103.1h1.3v1.3h-1.3zM320.5 110.1h1.3v1.3h-1.3zM322.2 94.2h1.3v1.3h-1.3zM311.8 131.5h1.3v1.3h-1.3zM326.1 98.2h1.3v1.3h-1.3zM309.4 88.3h1.3v1.3h-1.3zM312.5 75.7h1.3v1.3h-1.3zM309.1 82.2h1.3v1.3h-1.3zM311.4 102.4h1.3v1.3h-1.3zM318.5 129.4h1.3v1.3h-1.3zM304.0 86.4h1.3v1.3h-1.3zM329.1 104.7h1.3v1.3h-1.3zM311.0 84.0h1.3v1.3h-1.3zM317.0 120.8h1.3v1.3h-1.3zM307.6 105.1h1.3v1.3h-1.3zM319.1 83.8h1.3v1.3h-1.3zM326.1 123.7h1.3v1.3h-1.3zM319.9 99.1h1.3v1.3h-1.3zM300.0 102.6h1.3v1.3h-1.3zM310.8 96.9h1.3v1.3h-1.3zM316.0 106.8h1.3v1.3h-1.3zM316.9 105.7h1.3v1.3h-1.3zM326.4 95.2h1.3v1.3h-1.3zM324.8 104.7h1.3v1.3h-1.3zM306.3 97.3h1.3v1.3h-1.3zM324.9 118.0h1.3v1.3h-1.3zM316.1 119.9h1.3v1.3h-1.3zM321.0 125.5h1.3v1.3h-1.3zM320.1 94.7h1.3v1.3h-1.3zM308.5 77.5h1.3v1.3h-1.3zM318.6 80.7h1.3v1.3h-1.3zM330.2 105.0h1.3v1.3h-1.3zM305.0 122.9h1.3v1.3h-1.3zM306.4 97.1h1.3v1.3h-1.3zM320.4 89.7h1.3v1.3h-1.3zM317.5 115.3h1.3v1.3h-1.3zM323.3 122.8h1.3v1.3h-1.3zM323.3 89.9h1.3v1.3h-1.3zM323.5 99.0h1.3v1.3h-1.3zM319.2 94.3h1.3v1.3h-1.3zM302.3 102.4h1.3v1.3h-1.3zM312.6 92.3h1.3v1.3h-1.3zM317.4 105.4h1.3v1.3h-1.3zM328.3 90.7h1.3v1.3h-1.3zM327.2 91.7h1.3v1.3h-1.3zM309.5 129.3h1.3v1.3h-1.3zM320.5 115.6h1.3v1.3h-1.3zM305.8 79.9h1.3v1.3h-1.3zM304.9 98.8h1.3v1.3h-1.3zM325.5 113.9h1.3v1.3h-1.3zM313.3 128.1h1.3v1.3h-1.3zM309.4 75.6h1.3v1.3h-1.3zM320.4 101.8h1.3v1.3h-1.3zM305.8 85.9h1.3v1.3h-1.3zM314.6 127.2h1.3v1.3h-1.3zM329.1 103.9h1.3v1.3h-1.3zM320.9 101.0h1.3v1.3h-1.3zM324.1 115.6h1.3v1.3h-1.3zM321.0 108.5h1.3v1.3h-1.3zM304.7 101.3h1.3v1.3h-1.3zM313.6 81.9h1.3v1.3h-1.3zM305.8 97.6h1.3v1.3h-1.3zM304.9 110.6h1.3v1.3h-1.3zM321.2 104.0h1.3v1.3h-1.3zM313.2 96.4h1.3v1.3h-1.3zM328.5 112.2h1.3v1.3h-1.3zM320.1 81.3h1.3v1.3h-1.3zM316.6 82.7h1.3v1.3h-1.3zM309.7 108.3h1.3v1.3h-1.3zM304.7 86.7h1.3v1.3h-1.3zM322.7 102.1h1.3v1.3h-1.3zM318.8 114.8h1.3v1.3h-1.3zM317.1 81.6h1.3v1.3h-1.3zM330.6 102.7h1.3v1.3h-1.3zM308.1 106.0h1.3v1.3h-1.3zM307.2 124.9h1.3v1.3h-1.3zM307.6 77.3h1.3v1.3h-1.3zM304.5 89.1h1.3v1.3h-1.3zM320.7 98.5h1.3v1.3h-1.3zM303.3 84.7h1.3v1.3h-1.3zM313.2 125.1h1.3v1.3h-1.3zM322.8 81.1h1.3v1.3h-1.3zM308.9 85.2h1.3v1.3h-1.3zM313.3 128.7h1.3v1.3h-1.3zM326.2 105.2h1.3v1.3h-1.3zM308.8 120.9h1.3v1.3h-1.3zM307.8 126.7h1.3v1.3h-1.3zM307.7 116.5h1.3v1.3h-1.3zM303.1 112.6h1.3v1.3h-1.3zM304.7 108.8h1.3v1.3h-1.3zM323.1 126.1h1.3v1.3h-1.3zM312.3 130.4h1.3v1.3h-1.3zM302.7 89.2h1.3v1.3h-1.3zM321.6 126.5h1.3v1.3h-1.3zM307.5 119.4h1.3v1.3h-1.3zM321.0 125.2h1.3v1.3h-1.3zM328.6 96.5h1.3v1.3h-1.3zM321.6 112.4h1.3v1.3h-1.3zM321.4 78.1h1.3v1.3h-1.3zM313.6 114.4h1.3v1.3h-1.3zM323.1 122.9h1.3v1.3h-1.3zM309.3 90.7h1.3v1.3h-1.3zM327.3 91.7h1.3v1.3h-1.3zM311.9 91.6h1.3v1.3h-1.3zM322.1 83.1h1.3v1.3h-1.3zM303.5 110.5h1.3v1.3h-1.3zM314.1 94.2h1.3v1.3h-1.3zM309.2 93.5h1.3v1.3h-1.3zM302.8 98.4h1.3v1.3h-1.3zM325.3 117.5h1.3v1.3h-1.3zM306.6 79.1h1.3v1.3h-1.3zM322.4 81.3h1.3v1.3h-1.3zM324.6 105.2h1.3v1.3h-1.3zM330.3 110.5h1.3v1.3h-1.3zM323.3 94.0h1.3v1.3h-1.3zM314.6 80.9h1.3v1.3h-1.3zM305.0 102.8h1.3v1.3h-1.3zM313.0 83.8h1.3v1.3h-1.3zM304.1 99.6h1.3v1.3h-1.3zM314.5 75.6h1.3v1.3h-1.3zM322.8 119.3h1.3v1.3h-1.3zM304.6 98.2h1.3v1.3h-1.3zM312.6 76.9h1.3v1.3h-1.3zM324.2 107.9h1.3v1.3h-1.3zM320.0 101.9h1.3v1.3h-1.3zM326.6 107.8h1.3v1.3h-1.3zM316.8 97.2h1.3v1.3h-1.3zM319.4 108.3h1.3v1.3h-1.3zM309.9 116.4h1.3v1.3h-1.3zM306.8 101.9h1.3v1.3h-1.3zM316.1 116.8h1.3v1.3h-1.3zM305.1 110.3h1.3v1.3h-1.3zM304.8 106.6h1.3v1.3h-1.3zM327.5 98.6h1.3v1.3h-1.3zM306.5 108.9h1.3v1.3h-1.3zM312.5 99.1h1.3v1.3h-1.3zM305.0 114.1h1.3v1.3h-1.3zM315.2 114.1h1.3v1.3h-1.3zM324.5 88.1h1.3v1.3h-1.3zM322.2 106.8h1.3v1.3h-1.3zM313.8 110.7h1.3v1.3h-1.3zM313.9 112.6h1.3v1.3h-1.3zM319.8 115.5h1.3v1.3h-1.3zM327.0 105.2h1.3v1.3h-1.3zM316.6 81.3h1.3v1.3h-1.3zM303.3 95.9h1.3v1.3h-1.3zM313.6 121.2h1.3v1.3h-1.3zM311.6 83.2h1.3v1.3h-1.3zM302.6 113.3h1.3v1.3h-1.3zM319.7 89.6h1.3v1.3h-1.3zM317.1 114.3h1.3v1.3h-1.3zM306.0 87.4h1.3v1.3h-1.3zM314.9 100.2h1.3v1.3h-1.3zM324.2 124.8h1.3v1.3h-1.3zM323.7 110.7h1.3v1.3h-1.3zM316.6 78.1h1.3v1.3h-1.3zM317.7 98.9h1.3v1.3h-1.3zM323.5 95.4h1.3v1.3h-1.3zM303.2 95.9h1.3v1.3h-1.3zM325.9 102.8h1.3v1.3h-1.3zM320.7 75.9h1.3v1.3h-1.3zM306.4 88.7h1.3v1.3h-1.3zM314.8 79.8h1.3v1.3h-1.3zM329.6 92.7h1.3v1.3h-1.3zM315.4 110.1h1.3v1.3h-1.3zM315.8 112.0h1.3v1.3h-1.3zM309.1 81.6h1.3v1.3h-1.3zM327.8 99.7h1.3v1.3h-1.3zM318.6 101.6h1.3v1.3h-1.3zM321.3 78.6h1.3v1.3h-1.3zM323.4 83.2h1.3v1.3h-1.3zM318.2 110.5h1.3v1.3h-1.3zM326.4 110.0h1.3v1.3h-1.3zM305.0 122.2h1.3v1.3h-1.3zM311.3 106.9h1.3v1.3h-1.3zM302.6 100.2h1.3v1.3h-1.3zM309.4 124.2h1.3v1.3h-1.3zM312.0 128.0h1.3v1.3h-1.3zM324.7 98.1h1.3v1.3h-1.3zM323.7 113.9h1.3v1.3h-1.3zM303.0 90.6h1.3v1.3h-1.3zM312.0 90.8h1.3v1.3h-1.3zM303.8 114.7h1.3v1.3h-1.3zM306.6 120.8h1.3v1.3h-1.3zM323.2 119.4h1.3v1.3h-1.3zM318.0 80.0h1.3v1.3h-1.3zM317.9 131.0h1.3v1.3h-1.3zM307.9 101.8h1.3v1.3h-1.3zM320.9 111.9h1.3v1.3h-1.3zM309.7 97.9h1.3v1.3h-1.3zM328.0 116.2h1.3v1.3h-1.3zM304.9 114.0h1.3v1.3h-1.3zM326.6 109.2h1.3v1.3h-1.3zM327.9 88.7h1.3v1.3h-1.3zM308.6 125.3h1.3v1.3h-1.3zM307.5 80.2h1.3v1.3h-1.3zM325.6 84.6h1.3v1.3h-1.3zM323.0 84.5h1.3v1.3h-1.3zM317.8 118.3h1.3v1.3h-1.3zM315.5 110.8h1.3v1.3h-1.3zM303.1 100.4h1.3v1.3h-1.3zM324.4 95.3h1.3v1.3h-1.3zM323.1 109.0h1.3v1.3h-1.3zM325.2 117.6h1.3v1.3h-1.3zM309.1 122.5h1.3v1.3h-1.3zM325.4 98.6h1.3v1.3h-1.3zM322.3 97.8h1.3v1.3h-1.3zM317.7 92.3h1.3v1.3h-1.3zM314.1 91.3h1.3v1.3h-1.3zM327.9 109.9h1.3v1.3h-1.3zM318.9 104.4h1.3v1.3h-1.3zM314.2 83.1h1.3v1.3h-1.3zM320.0 99.7h1.3v1.3h-1.3zM310.3 103.8h1.3v1.3h-1.3zM303.5 112.0h1.3v1.3h-1.3zM324.4 94.9h1.3v1.3h-1.3zM319.1 91.9h1.3v1.3h-1.3zM302.2 107.5h1.3v1.3h-1.3zM322.2 89.4h1.3v1.3h-1.3zM312.3 77.8h1.3v1.3h-1.3zM306.5 106.6h1.3v1.3h-1.3zM327.5 98.5h1.3v1.3h-1.3zM311.4 89.6h1.3v1.3h-1.3zM313.5 109.8h1.3v1.3h-1.3zM306.3 79.0h1.3v1.3h-1.3zM318.4 112.6h1.3v1.3h-1.3zM317.2 82.3h1.3v1.3h-1.3zM326.8 98.7h1.3v1.3h-1.3zM316.6 126.5h1.3v1.3h-1.3zM303.6 102.8h1.3v1.3h-1.3zM312.9 111.4h1.3v1.3h-1.3zM306.5 87.2h1.3v1.3h-1.3zM306.6 106.6h1.3v1.3h-1.3zM308.9 129.1h1.3v1.3h-1.3zM327.2 116.9h1.3v1.3h-1.3zM312.3 122.8h1.3v1.3h-1.3zM317.7 120.2h1.3v1.3h-1.3zM323.7 127.6h1.3v1.3h-1.3zM312.3 93.3h1.3v1.3h-1.3zM302.2 103.9h1.3v1.3h-1.3zM321.1 127.7h1.3v1.3h-1.3zM320.5 78.7h1.3v1.3h-1.3zM326.0 114.2h1.3v1.3h-1.3zM312.9 107.2h1.3v1.3h-1.3zM315.6 93.2h1.3v1.3h-1.3zM315.6 91.8h1.3v1.3h-1.3zM310.3 112.2h1.3v1.3h-1.3zM313.9 73.7h1.3v1.3h-1.3zM314.0 129.1h1.3v1.3h-1.3zM316.0 117.1h1.3v1.3h-1.3zM316.1 121.9h1.3v1.3h-1.3zM319.3 122.1h1.3v1.3h-1.3zM311.9 129.1h1.3v1.3h-1.3zM328.3 94.7h1.3v1.3h-1.3zM310.1 126.9h1.3v1.3h-1.3zM325.7 108.5h1.3v1.3h-1.3zM317.2 76.1h1.3v1.3h-1.3zM316.1 86.1h1.3v1.3h-1.3zM318.7 82.1h1.3v1.3h-1.3zM309.8 119.5h1.3v1.3h-1.3zM317.8 80.6h1.3v1.3h-1.3zM312.5 116.0h1.3v1.3h-1.3zM317.9 112.3h1.3v1.3h-1.3zM315.6 87.9h1.3v1.3h-1.3zM318.5 100.8h1.3v1.3h-1.3zM319.4 121.3h1.3v1.3h-1.3zM315.4 98.3h1.3v1.3h-1.3zM317.1 82.8h1.3v1.3h-1.3zM328.5 96.3h1.3v1.3h-1.3zM315.3 123.8h1.3v1.3h-1.3zM322.0 104.9h1.3v1.3h-1.3zM313.1 120.0h1.3v1.3h-1.3zM317.3 113.3h1.3v1.3h-1.3zM310.8 123.1h1.3v1.3h-1.3zM323.0 126.5h1.3v1.3h-1.3zM308.6 112.9h1.3v1.3h-1.3zM317.3 93.3h1.3v1.3h-1.3zM308.8 77.9h1.3v1.3h-1.3zM326.1 89.3h1.3v1.3h-1.3zM310.4 88.0h1.3v1.3h-1.3zM317.1 102.7h1.3v1.3h-1.3zM310.3 123.5h1.3v1.3h-1.3zM323.1 92.7h1.3v1.3h-1.3zM313.8 124.5h1.3v1.3h-1.3zM314.5 127.4h1.3v1.3h-1.3zM323.2 83.0h1.3v1.3h-1.3zM318.7 79.2h1.3v1.3h-1.3zM301.7 95.8h1.3v1.3h-1.3zM319.5 86.3h1.3v1.3h-1.3zM324.6 88.4h1.3v1.3h-1.3zM311.0 97.2h1.3v1.3h-1.3zM330.4 106.4h1.3v1.3h-1.3zM323.3 103.9h1.3v1.3h-1.3zM320.8 114.4h1.3v1.3h-1.3zM304.0 84.3h1.3v1.3h-1.3zM322.1 120.6h1.3v1.3h-1.3zM303.0 102.8h1.3v1.3h-1.3zM315.7 87.9h1.3v1.3h-1.3zM309.7 102.5h1.3v1.3h-1.3zM324.4 88.0h1.3v1.3h-1.3zM307.8 78.8h1.3v1.3h-1.3zM306.2 104.8h1.3v1.3h-1.3zM327.2 92.1h1.3v1.3h-1.3zM303.4 109.5h1.3v1.3h-1.3zM315.2 125.1h1.3v1.3h-1.3zM313.6 89.1h1.3v1.3h-1.3zM311.9 81.0h1.3v1.3h-1.3zM314.7 114.7h1.3v1.3h-1.3zM305.2 108.1h1.3v1.3h-1.3zM309.5 111.8h1.3v1.3h-1.3zM325.2 115.6h1.3v1.3h-1.3zM319.3 106.7h1.3v1.3h-1.3zM310.5 123.6h1.3v1.3h-1.3zM315.8 122.8h1.3v1.3h-1.3zM322.8 92.9h1.3v1.3h-1.3zM325.4 93.8h1.3v1.3h-1.3zM319.0 123.9h1.3v1.3h-1.3zM329.8 110.4h1.3v1.3h-1.3zM305.7 82.3h1.3v1.3h-1.3zM325.9 91.3h1.3v1.3h-1.3zM304.0 107.8h1.3v1.3h-1.3zM312.7 117.6h1.3v1.3h-1.3zM305.1 103.7h1.3v1.3h-1.3zM311.7 96.5h1.3v1.3h-1.3zM309.4 106.0h1.3v1.3h-1.3zM303.7 111.2h1.3v1.3h-1.3zM311.3 90.8h1.3v1.3h-1.3zM326.5 117.8h1.3v1.3h-1.3zM313.5 88.3h1.3v1.3h-1.3zM315.6 112.1h1.3v1.3h-1.3zM323.6 112.9h1.3v1.3h-1.3zM315.7 79.5h1.3v1.3h-1.3zM324.5 122.9h1.3v1.3h-1.3zM309.2 89.0h1.3v1.3h-1.3zM301.6 91.2h1.3v1.3h-1.3zM315.7 99.8h1.3v1.3h-1.3zM306.8 123.2h1.3v1.3h-1.3zM315.1 94.6h1.3v1.3h-1.3zM328.0 118.6h1.3v1.3h-1.3zM320.0 115.2h1.3v1.3h-1.3zM329.3 104.6h1.3v1.3h-1.3zM307.5 117.3h1.3v1.3h-1.3zM311.6 119.0h1.3v1.3h-1.3zM325.1 87.3h1.3v1.3h-1.3zM314.1 100.1h1.3v1.3h-1.3zM305.3 116.0h1.3v1.3h-1.3zM316.4 94.1h1.3v1.3h-1.3zM324.2 97.4h1.3v1.3h-1.3zM307.5 82.3h1.3v1.3h-1.3zM321.1 86.0h1.3v1.3h-1.3zM313.5 118.6h1.3v1.3h-1.3zM320.0 89.5h1.3v1.3h-1.3zM310.5 122.0h1.3v1.3h-1.3zM301.0 112.0h1.3v1.3h-1.3zM321.9 104.0h1.3v1.3h-1.3zM317.0 128.9h1.3v1.3h-1.3zM309.7 118.4h1.3v1.3h-1.3zM322.4 117.6h1.3v1.3h-1.3zM301.5 114.8h1.3v1.3h-1.3zM311.3 80.4h1.3v1.3h-1.3zM328.4 88.7h1.3v1.3h-1.3zM314.2 91.2h1.3v1.3h-1.3zM302.9 90.3h1.3v1.3h-1.3zM318.9 111.5h1.3v1.3h-1.3zM323.2 81.8h1.3v1.3h-1.3zM308.1 123.2h1.3v1.3h-1.3zM316.1 117.6h1.3v1.3h-1.3zM314.1 98.1h1.3v1.3h-1.3zM328.3 116.1h1.3v1.3h-1.3zM306.2 110.9h1.3v1.3h-1.3zM321.1 89.7h1.3v1.3h-1.3zM311.4 126.8h1.3v1.3h-1.3zM307.7 109.8h1.3v1.3h-1.3zM329.0 107.7h1.3v1.3h-1.3zM314.8 81.5h1.3v1.3h-1.3zM317.1 80.4h1.3v1.3h-1.3zM301.4 92.9h1.3v1.3h-1.3zM307.5 120.2h1.3v1.3h-1.3zM317.4 111.6h1.3v1.3h-1.3zM308.2 96.4h1.3v1.3h-1.3zM302.9 90.0h1.3v1.3h-1.3zM310.1 110.9h1.3v1.3h-1.3zM316.1 82.0h1.3v1.3h-1.3zM325.6 120.1h1.3v1.3h-1.3zM321.7 116.6h1.3v1.3h-1.3zM303.8 107.9h1.3v1.3h-1.3zM312.5 94.0h1.3v1.3h-1.3zM327.1 93.9h1.3v1.3h-1.3zM305.9 114.0h1.3v1.3h-1.3zM319.1 83.5h1.3v1.3h-1.3zM305.7 116.1h1.3v1.3h-1.3zM313.4 115.5h1.3v1.3h-1.3zM306.0 107.2h1.3v1.3h-1.3zM326.7 90.0h1.3v1.3h-1.3zM305.6 104.8h1.3v1.3h-1.3zM325.3 122.1h1.3v1.3h-1.3zM328.5 87.6h1.3v1.3h-1.3zM329.3 98.5h1.3v1.3h-1.3zM320.6 116.6h1.3v1.3h-1.3zM308.0 89.6h1.3v1.3h-1.3zM313.3 93.3h1.3v1.3h-1.3zM322.6 125.3h1.3v1.3h-1.3zM320.5 75.5h1.3v1.3h-1.3zM324.8 119.4h1.3v1.3h-1.3zM329.2 96.7h1.3v1.3h-1.3zM317.1 84.9h1.3v1.3h-1.3zM307.3 98.2h1.3v1.3h-1.3zM317.3 88.1h1.3v1.3h-1.3zM317.0 98.5h1.3v1.3h-1.3zM306.3 112.0h1.3v1.3h-1.3zM307.0 98.2h1.3v1.3h-1.3zM319.1 76.7h1.3v1.3h-1.3zM309.2 93.0h1.3v1.3h-1.3zM320.9 77.9h1.3v1.3h-1.3zM305.9 122.7h1.3v1.3h-1.3zM302.5 93.3h1.3v1.3h-1.3zM310.9 113.9h1.3v1.3h-1.3zM329.4 111.2h1.3v1.3h-1.3zM309.9 86.0h1.3v1.3h-1.3zM311.1 86.0h1.3v1.3h-1.3zM326.9 86.5h1.3v1.3h-1.3zM312.3 126.7h1.3v1.3h-1.3zM305.7 99.8h1.3v1.3h-1.3zM323.4 124.2h1.3v1.3h-1.3zM311.4 117.6h1.3v1.3h-1.3zM322.7 127.7h1.3v1.3h-1.3zM311.0 124.3h1.3v1.3h-1.3zM305.4 108.1h1.3v1.3h-1.3zM323.5 83.5h1.3v1.3h-1.3zM311.2 106.7h1.3v1.3h-1.3zM325.1 87.0h1.3v1.3h-1.3zM316.6 118.0h1.3v1.3h-1.3zM321.3 88.1h1.3v1.3h-1.3zM302.5 94.5h1.3v1.3h-1.3zM305.5 106.7h1.3v1.3h-1.3zM316.1 75.4h1.3v1.3h-1.3zM305.5 89.1h1.3v1.3h-1.3zM304.4 94.8h1.3v1.3h-1.3zM316.2 118.7h1.3v1.3h-1.3zM319.4 99.4h1.3v1.3h-1.3zM320.1 115.9h1.3v1.3h-1.3zM299.7 86.6h1.1v1.1h-1.1zM332.3 126.1h1.1v1.1h-1.1zM291.2 125.5h1.1v1.1h-1.1zM334.0 116.1h1.1v1.1h-1.1zM318.3 135.8h1.3v1.3h-1.3zM336.1 130.2h1.1v1.1h-1.1zM327.2 129.5h1.1v1.1h-1.1zM300.6 133.6h1.1v1.1h-1.1zM320.8 73.4h1.1v1.1h-1.1zM328.4 125.3h1.1v1.1h-1.1zM317.7 136.9h1.3v1.3h-1.3zM316.5 72.4h1.1v1.1h-1.1zM294.5 87.3h1.1v1.1h-1.1zM302.6 125.0h1.1v1.1h-1.1zM331.6 105.3h1.1v1.1h-1.1zM296.2 136.4h1.3v1.3h-1.3zM335.2 131.7h1.1v1.1h-1.1zM290.1 110.2h1.1v1.1h-1.1zM338.6 130.3h1.1v1.1h-1.1zM293.0 104.7h1.1v1.1h-1.1zM343.1 129.9h1.1v1.1h-1.1zM310.1 70.0h1.1v1.1h-1.1zM336.4 94.4h1.1v1.1h-1.1zM292.8 87.4h1.1v1.1h-1.1zM306.4 77.6h1.1v1.1h-1.1zM348.4 88.6h1.1v1.1h-1.1zM331.4 94.4h1.1v1.1h-1.1zM352.5 85.3h1.1v1.1h-1.1zM340.2 75.8h1.1v1.1h-1.1zM334.0 109.5h1.1v1.1h-1.1zM333.7 112.7h1.1v1.1h-1.1zM332.7 89.7h1.1v1.1h-1.1zM290.3 135.7h1.3v1.3h-1.3zM331.0 118.5h1.1v1.1h-1.1zM315.3 138.0h1.3v1.3h-1.3zM331.5 107.1h1.1v1.1h-1.1zM295.8 102.0h1.1v1.1h-1.1zM337.0 111.7h1.1v1.1h-1.1zM321.4 131.4h1.1v1.1h-1.1zM328.0 134.3h1.1v1.1h-1.1zM337.1 96.8h1.1v1.1h-1.1zM319.9 135.5h1.3v1.3h-1.3zM341.2 125.4h1.1v1.1h-1.1zM335.4 131.0h1.1v1.1h-1.1zM317.7 137.7h1.3v1.3h-1.3zM293.7 115.9h1.1v1.1h-1.1zM289.8 110.3h1.1v1.1h-1.1zM332.9 120.8h1.1v1.1h-1.1zM298.1 131.5h1.1v1.1h-1.1zM298.7 94.3h1.1v1.1h-1.1zM340.7 109.9h1.1v1.1h-1.1zM341.7 93.6h1.1v1.1h-1.1zM337.8 116.8h1.1v1.1h-1.1zM297.6 129.9h1.1v1.1h-1.1zM288.8 109.8h1.1v1.1h-1.1zM288.6 110.1h1.1v1.1h-1.1zM310.8 137.6h1.3v1.3h-1.3zM333.1 110.6h1.1v1.1h-1.1zM320.3 133.2h1.1v1.1h-1.1zM322.4 134.7h1.1v1.1h-1.1zM330.3 78.0h1.1v1.1h-1.1zM333.7 78.8h1.1v1.1h-1.1zM296.2 89.0h1.1v1.1h-1.1zM296.0 83.1h1.1v1.1h-1.1zM333.8 108.6h1.1v1.1h-1.1zM312.1 136.5h1.3v1.3h-1.3zM308.4 133.5h1.1v1.1h-1.1zM331.8 80.7h1.1v1.1h-1.1zM287.7 97.2h1.1v1.1h-1.1zM327.0 130.3h1.1v1.1h-1.1zM300.0 82.2h1.1v1.1h-1.1zM299.6 93.9h1.1v1.1h-1.1zM321.1 137.3h1.3v1.3h-1.3zM287.3 124.4h1.1v1.1h-1.1zM298.3 94.1h1.1v1.1h-1.1zM333.2 117.0h1.1v1.1h-1.1zM335.4 102.4h1.1v1.1h-1.1zM291.5 117.2h1.1v1.1h-1.1zM338.6 110.7h1.1v1.1h-1.1zM337.0 118.4h1.1v1.1h-1.1zM335.0 131.0h1.1v1.1h-1.1zM295.5 97.9h1.1v1.1h-1.1zM295.3 120.4h1.1v1.1h-1.1zM302.1 129.9h1.1v1.1h-1.1zM304.1 71.3h1.1v1.1h-1.1zM309.4 133.9h1.1v1.1h-1.1zM332.8 124.2h1.1v1.1h-1.1zM327.7 131.6h1.1v1.1h-1.1zM288.1 113.0h1.1v1.1h-1.1zM348.4 96.7h1.1v1.1h-1.1zM328.6 76.5h1.1v1.1h-1.1zM299.3 100.2h1.1v1.1h-1.1zM303.7 129.2h1.1v1.1h-1.1zM291.1 122.2h1.1v1.1h-1.1zM301.2 87.1h1.1v1.1h-1.1zM344.8 92.0h1.1v1.1h-1.1zM302.0 125.2h1.1v1.1h-1.1zM336.5 98.9h1.1v1.1h-1.1zM335.9 85.3h1.1v1.1h-1.1zM318.3 136.8h1.3v1.3h-1.3zM331.3 122.0h1.1v1.1h-1.1zM327.3 123.4h1.1v1.1h-1.1zM335.9 112.3h1.1v1.1h-1.1zM334.1 118.5h1.1v1.1h-1.1zM330.8 87.7h1.1v1.1h-1.1zM346.4 106.3h1.1v1.1h-1.1zM330.9 118.5h1.1v1.1h-1.1zM334.2 104.0h1.1v1.1h-1.1zM341.8 93.0h1.1v1.1h-1.1zM337.5 116.1h1.1v1.1h-1.1zM332.3 107.6h1.1v1.1h-1.1zM331.8 118.6h1.1v1.1h-1.1zM339.7 88.7h1.1v1.1h-1.1zM287.6 101.4h1.1v1.1h-1.1zM300.2 126.7h1.1v1.1h-1.1zM292.4 104.8h1.1v1.1h-1.1zM332.2 104.0h1.1v1.1h-1.1zM329.6 69.9h1.1v1.1h-1.1zM297.6 116.1h1.1v1.1h-1.1zM341.0 110.5h1.1v1.1h-1.1zM299.0 114.1h1.1v1.1h-1.1zM340.3 88.9h1.1v1.1h-1.1zM295.5 105.8h1.1v1.1h-1.1zM315.1 98.4h1.3v1.3h-1.3zM334.4 75.1h1.1v1.1h-1.1zM329.2 126.4h1.1v1.1h-1.1zM344.6 117.5h1.1v1.1h-1.1zM300.0 90.4h1.1v1.1h-1.1zM310.9 135.9h1.3v1.3h-1.3zM348.4 106.9h1.1v1.1h-1.1zM336.1 124.3h1.1v1.1h-1.1zM356.6 135.5h1.3v1.3h-1.3zM356.0 105.0h1.1v1.1h-1.1zM358.3 124.4h1.1v1.1h-1.1zM352.9 100.8h1.1v1.1h-1.1zM356.8 132.8h1.1v1.1h-1.1zM349.4 123.4h1.1v1.1h-1.1zM346.0 109.0h1.1v1.1h-1.1zM353.3 125.3h1.1v1.1h-1.1zM350.0 119.5h1.1v1.1h-1.1zM353.3 113.4h1.1v1.1h-1.1zM352.0 124.5h1.1v1.1h-1.1zM356.3 112.2h1.1v1.1h-1.1zM357.4 103.7h1.1v1.1h-1.1zM344.6 116.0h1.1v1.1h-1.1zM357.3 122.8h1.1v1.1h-1.1zM338.8 101.6h1.1v1.1h-1.1zM343.7 110.5h1.1v1.1h-1.1zM339.1 110.7h1.1v1.1h-1.1zM347.6 123.5h1.1v1.1h-1.1zM332.4 99.2h1.1v1.1h-1.1zM351.1 113.8h1.1v1.1h-1.1zM353.4 101.8h1.1v1.1h-1.1zM354.9 125.3h1.1v1.1h-1.1zM347.7 134.1h1.1v1.1h-1.1zM334.2 119.4h1.1v1.1h-1.1zM358.5 100.6h1.1v1.1h-1.1zM336.7 125.9h1.1v1.1h-1.1zM336.8 126.1h1.1v1.1h-1.1zM329.3 99.2h1.3v1.3h-1.3zM347.5 107.2h1.1v1.1h-1.1zM351.4 122.6h1.1v1.1h-1.1zM345.8 96.3h1.1v1.1h-1.1zM341.4 99.1h1.1v1.1h-1.1zM342.2 107.5h1.1v1.1h-1.1zM335.4 106.3h1.1v1.1h-1.1zM357.2 105.1h1.1v1.1h-1.1zM353.8 99.1h1.1v1.1h-1.1zM348.3 112.1h1.1v1.1h-1.1zM341.2 101.6h1.1v1.1h-1.1zM349.6 106.8h1.1v1.1h-1.1zM341.2 108.6h1.1v1.1h-1.1zM344.5 103.4h1.1v1.1h-1.1zM334.5 128.8h1.1v1.1h-1.1zM347.9 127.7h1.1v1.1h-1.1zM330.5 136.4h1.3v1.3h-1.3zM319.9 131.8h1.3v1.3h-1.3zM287.1 134.7h1.1v1.1h-1.1zM289.6 135.1h1.3v1.3h-1.3zM327.6 136.8h1.3v1.3h-1.3zM316.4 136.9h1.3v1.3h-1.3zM330.8 135.5h1.3v1.3h-1.3zM314.1 132.5h1.3v1.3h-1.3zM294.0 137.4h1.3v1.3h-1.3zM324.2 135.4h1.3v1.3h-1.3zM320.4 134.4h1.1v1.1h-1.1zM329.1 137.5h1.3v1.3h-1.3zM343.1 135.7h1.3v1.3h-1.3zM322.4 137.0h1.3v1.3h-1.3zM345.3 137.8h1.3v1.3h-1.3zM291.1 137.6h1.3v1.3h-1.3zM335.9 135.2h1.3v1.3h-1.3zM295.0 137.3h1.3v1.3h-1.3zM303.2 133.7h1.1v1.1h-1.1zM323.2 137.7h1.3v1.3h-1.3zM336.8 135.7h1.3v1.3h-1.3zM308.3 137.8h1.3v1.3h-1.3zM291.1 132.1h1.1v1.1h-1.1zM310.1 137.0h1.3v1.3h-1.3zM343.0 136.7h1.3v1.3h-1.3zM331.2 133.7h1.1v1.1h-1.1zM328.2 136.1h1.3v1.3h-1.3zM311.7 137.4h1.3v1.3h-1.3zM306.4 136.6h1.3v1.3h-1.3zM338.1 136.6h1.3v1.3h-1.3zM309.2 135.7h1.3v1.3h-1.3zM345.5 136.1h1.3v1.3h-1.3zM324.8 137.5h1.3v1.3h-1.3zM290.4 137.2h1.3v1.3h-1.3zM293.7 135.7h1.3v1.3h-1.3zM323.7 135.4h1.3v1.3h-1.3zM288.5 136.3h1.3v1.3h-1.3zM333.7 137.0h1.3v1.3h-1.3zM310.6 137.5h1.3v1.3h-1.3zM289.3 130.2h1.1v1.1h-1.1zM292.7 135.6h1.3v1.3h-1.3zM306.4 133.0h1.1v1.1h-1.1zM305.3 136.6h1.3v1.3h-1.3zM325.6 135.5h1.3v1.3h-1.3zM312.9 135.8h1.3v1.3h-1.3zM325.0 137.9h1.3v1.3h-1.3zM304.7 135.6h1.3v1.3h-1.3zM312.9 131.8h1.3v1.3h-1.3zM345.6 136.0h1.3v1.3h-1.3zM291.1 137.7h1.3v1.3h-1.3zM334.9 136.6h1.3v1.3h-1.3zM299.8 136.3h1.3v1.3h-1.3zM331.0 134.0h1.1v1.1h-1.1zM292.0 137.8h1.3v1.3h-1.3zM342.4 135.8h1.3v1.3h-1.3zM289.4 136.0h1.3v1.3h-1.3zM287.8 134.4h1.1v1.1h-1.1zM327.0 135.8h1.3v1.3h-1.3zM319.5 137.7h1.3v1.3h-1.3zM324.2 133.6h1.1v1.1h-1.1zM333.6 134.3h1.1v1.1h-1.1zM298.2 133.8h1.1v1.1h-1.1zM328.1 136.9h1.3v1.3h-1.3zM315.3 134.4h1.1v1.1h-1.1zM319.1 134.5h1.1v1.1h-1.1zM334.7 136.1h1.3v1.3h-1.3zM338.7 134.7h1.1v1.1h-1.1zM312.1 133.5h1.1v1.1h-1.1zM336.0 136.9h1.3v1.3h-1.3zM325.7 135.5h1.3v1.3h-1.3zM320.4 137.7h1.3v1.3h-1.3zM295.4 137.7h1.3v1.3h-1.3zM346.4 132.8h1.1v1.1h-1.1zM326.3 130.1h1.1v1.1h-1.1zM346.2 138.0h1.3v1.3h-1.3zM329.6 136.4h1.3v1.3h-1.3zM342.1 134.6h1.1v1.1h-1.1zM341.3 136.8h1.3v1.3h-1.3zM337.5 136.3h1.3v1.3h-1.3zM343.0 137.7h1.3v1.3h-1.3zM345.2 137.5h1.3v1.3h-1.3zM333.2 137.3h1.3v1.3h-1.3zM313.6 133.0h1.3v1.3h-1.3zM293.6 137.6h1.3v1.3h-1.3zM319.0 137.6h1.3v1.3h-1.3zM341.3 138.0h1.3v1.3h-1.3zM312.1 135.9h1.3v1.3h-1.3zM332.6 136.5h1.3v1.3h-1.3zM344.0 136.4h1.3v1.3h-1.3zM320.5 133.2h1.1v1.1h-1.1zM318.5 136.1h1.3v1.3h-1.3zM339.3 137.5h1.3v1.3h-1.3zM336.6 133.8h1.1v1.1h-1.1zM300.2 137.8h1.3v1.3h-1.3zM334.5 137.3h1.3v1.3h-1.3zM316.0 132.3h1.3v1.3h-1.3zM296.4 137.0h1.3v1.3h-1.3zM330.4 133.0h1.1v1.1h-1.1zM329.1 137.0h1.3v1.3h-1.3zM294.0 134.5h1.1v1.1h-1.1zM287.6 133.4h1.1v1.1h-1.1zM305.0 136.1h1.3v1.3h-1.3zM319.3 135.8h1.3v1.3h-1.3zM308.5 135.3h1.3v1.3h-1.3zM305.3 136.0h1.3v1.3h-1.3zM342.9 137.6h1.3v1.3h-1.3zM342.9 136.7h1.3v1.3h-1.3zM332.2 136.7h1.3v1.3h-1.3zM312.1 137.8h1.3v1.3h-1.3zM333.4 137.5h1.3v1.3h-1.3zM324.1 137.5h1.3v1.3h-1.3zM292.9 137.4h1.3v1.3h-1.3zM337.6 137.4h1.3v1.3h-1.3zM323.4 136.2h1.3v1.3h-1.3zM336.7 134.3h1.1v1.1h-1.1zM292.0 136.9h1.3v1.3h-1.3zM293.4 134.7h1.1v1.1h-1.1zM290.3 137.4h1.3v1.3h-1.3zM298.3 134.5h1.1v1.1h-1.1zM292.0 135.9h1.3v1.3h-1.3zM309.2 133.0h1.1v1.1h-1.1zM305.1 133.1h1.1v1.1h-1.1zM302.7 133.6h1.1v1.1h-1.1zM345.2 137.8h1.3v1.3h-1.3zM321.5 133.5h1.1v1.1h-1.1zM291.7 136.1h1.3v1.3h-1.3zM312.9 135.7h1.3v1.3h-1.3zM311.0 133.8h1.1v1.1h-1.1zM313.8 136.0h1.3v1.3h-1.3zM346.1 138.0h1.3v1.3h-1.3zM319.5 137.7h1.3v1.3h-1.3zM304.0 134.7h1.1v1.1h-1.1zM317.4 136.1h1.3v1.3h-1.3zM308.6 136.5h1.3v1.3h-1.3zM310.8 136.0h1.3v1.3h-1.3zM328.4 132.9h1.1v1.1h-1.1zM323.3 135.0h1.1v1.1h-1.1zM303.6 135.5h1.3v1.3h-1.3zM327.5 129.6h1.1v1.1h-1.1zM318.5 131.7h1.3v1.3h-1.3zM312.0 136.3h1.3v1.3h-1.3zM327.6 134.2h1.1v1.1h-1.1zM317.3 135.3h1.3v1.3h-1.3zM294.7 137.0h1.3v1.3h-1.3zM325.3 130.8h1.1v1.1h-1.1zM304.6 136.3h1.3v1.3h-1.3zM307.3 134.7h1.1v1.1h-1.1zM292.7 132.2h1.1v1.1h-1.1zM319.3 136.9h1.3v1.3h-1.3zM314.5 137.1h1.3v1.3h-1.3zM314.2 136.9h1.3v1.3h-1.3zM327.0 136.0h1.3v1.3h-1.3zM320.1 135.2h1.3v1.3h-1.3zM308.4 136.0h1.3v1.3h-1.3zM322.0 137.2h1.3v1.3h-1.3zM305.3 137.8h1.3v1.3h-1.3zM306.2 135.2h1.3v1.3h-1.3zM320.8 136.0h1.3v1.3h-1.3zM319.7 134.2h1.1v1.1h-1.1zM308.8 133.1h1.1v1.1h-1.1zM313.8 131.5h1.3v1.3h-1.3zM334.5 138.0h1.3v1.3h-1.3zM318.0 135.8h1.3v1.3h-1.3zM340.0 131.9h1.1v1.1h-1.1zM289.9 132.9h1.1v1.1h-1.1zM325.7 136.5h1.3v1.3h-1.3zM317.3 135.9h1.3v1.3h-1.3zM311.9 132.2h1.3v1.3h-1.3zM315.5 137.2h1.3v1.3h-1.3zM318.4 136.6h1.3v1.3h-1.3zM296.7 136.0h1.3v1.3h-1.3zM306.0 133.2h1.1v1.1h-1.1zM326.4 137.4h1.3v1.3h-1.3zM335.5 136.0h1.3v1.3h-1.3zM305.6 137.3h1.3v1.3h-1.3zM312.0 135.0h1.1v1.1h-1.1zM323.6 136.4h1.3v1.3h-1.3zM307.0 137.2h1.3v1.3h-1.3zM322.2 135.7h1.3v1.3h-1.3zM317.4 137.0h1.3v1.3h-1.3zM341.1 135.7h1.3v1.3h-1.3zM310.4 137.0h1.3v1.3h-1.3zM318.5 133.7h1.1v1.1h-1.1zM322.5 137.2h1.3v1.3h-1.3zM331.5 136.6h1.3v1.3h-1.3zM321.8 135.8h1.3v1.3h-1.3zM328.7 135.5h1.3v1.3h-1.3zM316.5 132.2h1.3v1.3h-1.3zM323.8 132.3h1.1v1.1h-1.1zM325.2 136.9h1.3v1.3h-1.3zM305.0 135.8h1.3v1.3h-1.3zM317.9 136.2h1.3v1.3h-1.3zM342.3 136.5h1.3v1.3h-1.3zM313.4 133.9h1.1v1.1h-1.1zM301.1 136.4h1.3v1.3h-1.3zM309.3 137.3h1.3v1.3h-1.3zM331.5 135.8h1.3v1.3h-1.3zM335.0 135.2h1.3v1.3h-1.3zM316.9 135.6h1.3v1.3h-1.3zM320.5 135.5h1.3v1.3h-1.3zM316.5 133.5h1.1v1.1h-1.1zM321.4 134.5h1.1v1.1h-1.1zM309.2 131.9h1.1v1.1h-1.1zM287.9 134.8h1.1v1.1h-1.1zM302.5 133.1h1.1v1.1h-1.1zM323.2 130.5h1.1v1.1h-1.1zM292.4 136.5h1.3v1.3h-1.3zM318.6 135.3h1.3v1.3h-1.3zM314.2 132.1h1.3v1.3h-1.3zM305.4 135.5h1.3v1.3h-1.3zM300.8 137.1h1.3v1.3h-1.3zM314.1 131.7h1.3v1.3h-1.3zM315.8 135.8h1.3v1.3h-1.3zM330.8 134.0h1.1v1.1h-1.1zM336.1 136.3h1.3v1.3h-1.3zM310.6 134.3h1.1v1.1h-1.1zM341.6 114.8h1.1v1.1h-1.1zM348.6 128.1h1.1v1.1h-1.1zM344.5 125.1h1.1v1.1h-1.1zM338.8 123.0h1.1v1.1h-1.1zM343.3 125.4h1.1v1.1h-1.1zM353.6 122.0h1.1v1.1h-1.1zM338.9 113.8h1.1v1.1h-1.1zM340.6 119.7h1.1v1.1h-1.1zM348.5 130.5h1.1v1.1h-1.1zM342.2 116.5h1.1v1.1h-1.1zM346.8 116.3h1.1v1.1h-1.1zM346.8 126.4h1.1v1.1h-1.1zM347.2 109.6h1.1v1.1h-1.1zM342.3 109.1h1.1v1.1h-1.1zM339.9 125.8h1.1v1.1h-1.1zM349.3 111.3h1.1v1.1h-1.1zM349.0 129.3h1.1v1.1h-1.1zM341.5 132.3h1.1v1.1h-1.1zM341.3 123.8h1.1v1.1h-1.1zM339.3 125.5h1.1v1.1h-1.1zM348.3 113.8h1.1v1.1h-1.1zM347.9 115.3h1.1v1.1h-1.1zM341.0 129.9h1.1v1.1h-1.1zM338.9 125.4h1.1v1.1h-1.1zM352.0 121.4h1.1v1.1h-1.1zM351.8 120.8h1.1v1.1h-1.1zM335.9 121.5h1.1v1.1h-1.1zM353.4 116.5h1.1v1.1h-1.1zM346.0 130.6h1.1v1.1h-1.1zM350.8 119.6h1.1v1.1h-1.1zM339.7 122.6h1.1v1.1h-1.1zM342.6 116.5h1.1v1.1h-1.1zM346.4 112.1h1.1v1.1h-1.1zM348.4 133.3h1.1v1.1h-1.1zM338.4 115.4h1.1v1.1h-1.1zM336.7 124.4h1.1v1.1h-1.1zM351.0 126.1h1.1v1.1h-1.1zM349.5 118.2h1.1v1.1h-1.1z" fill="#000"/>
<path d="M309.7 88.6h1.3v1.3h-1.3zM309.1 101.2h1.3v1.3h-1.3zM309.9 105.4h1.3v1.3h-1.3zM309.2 118.0h1.3v1.3h-1.3zM314.0 84.2h1.3v1.3h-1.3zM313.1 117.8h1.3v1.3h-1.3zM313.4 126.2h1.3v1.3h-1.3zM318.6 92.8h1.3v1.3h-1.3zM317.0 101.2h1.3v1.3h-1.3zM317.4 109.6h1.3v1.3h-1.3zM317.1 118.0h1.3v1.3h-1.3zM321.6 96.9h1.3v1.3h-1.3zM322.4 101.1h1.3v1.3h-1.3zM321.0 109.5h1.3v1.3h-1.3zM321.6 113.7h1.3v1.3h-1.3zM306.7 105.6h1.3v1.3h-1.3zM315.4 124.5h1.3v1.3h-1.3zM308.9 105.7h1.3v1.3h-1.3zM322.0 97.1h1.3v1.3h-1.3zM314.0 131.7h1.3v1.3h-1.3zM308.8 116.4h1.3v1.3h-1.3zM321.2 93.1h1.3v1.3h-1.3zM322.6 97.8h1.3v1.3h-1.3zM320.4 123.9h1.3v1.3h-1.3zM315.7 130.6h1.3v1.3h-1.3zM318.8 123.0h1.3v1.3h-1.3zM308.7 107.7h1.3v1.3h-1.3zM315.2 82.0h1.3v1.3h-1.3zM318.0 89.1h1.3v1.3h-1.3zM314.9 125.2h1.3v1.3h-1.3zM319.4 122.0h1.3v1.3h-1.3zM322.8 110.1h1.3v1.3h-1.3zM306.7 106.9h1.3v1.3h-1.3zM313.8 126.7h1.3v1.3h-1.3zM320.0 93.9h1.3v1.3h-1.3zM308.5 120.1h1.3v1.3h-1.3zM308.6 95.1h1.3v1.3h-1.3zM314.9 83.2h1.3v1.3h-1.3zM310.5 117.8h1.3v1.3h-1.3zM320.1 94.4h1.3v1.3h-1.3z" fill="#fff"/>
<ellipse cx="315.3" cy="103" rx="16" ry="30.5" fill="none" stroke="#000" stroke-width="1.3"/>
<ellipse cx="345" cy="121.5" rx="9.8" ry="15" fill="none" stroke="#000" stroke-width="1.2"/>
<rect x="285.5" y="39" width="102.0" height="100" fill="none" stroke="#000" stroke-width="1.7"/>
<line x1="282.00" y1="139.00" x2="285.50" y2="139.00" stroke="#000" stroke-width="1.3"/>
<line x1="283.50" y1="131.47" x2="285.50" y2="131.47" stroke="#000" stroke-width="1.0"/>
<line x1="283.50" y1="127.07" x2="285.50" y2="127.07" stroke="#000" stroke-width="1.0"/>
<line x1="283.50" y1="123.95" x2="285.50" y2="123.95" stroke="#000" stroke-width="1.0"/>
<line x1="283.50" y1="121.53" x2="285.50" y2="121.53" stroke="#000" stroke-width="1.0"/>
<line x1="283.50" y1="119.55" x2="285.50" y2="119.55" stroke="#000" stroke-width="1.0"/>
<line x1="283.50" y1="117.87" x2="285.50" y2="117.87" stroke="#000" stroke-width="1.0"/>
<line x1="283.50" y1="116.42" x2="285.50" y2="116.42" stroke="#000" stroke-width="1.0"/>
<line x1="283.50" y1="115.14" x2="285.50" y2="115.14" stroke="#000" stroke-width="1.0"/>
<line x1="282.00" y1="114.00" x2="285.50" y2="114.00" stroke="#000" stroke-width="1.3"/>
<line x1="283.50" y1="106.47" x2="285.50" y2="106.47" stroke="#000" stroke-width="1.0"/>
<line x1="283.50" y1="102.07" x2="285.50" y2="102.07" stroke="#000" stroke-width="1.0"/>
<line x1="283.50" y1="98.95" x2="285.50" y2="98.95" stroke="#000" stroke-width="1.0"/>
<line x1="283.50" y1="96.53" x2="285.50" y2="96.53" stroke="#000" stroke-width="1.0"/>
<line x1="283.50" y1="94.55" x2="285.50" y2="94.55" stroke="#000" stroke-width="1.0"/>
<line x1="283.50" y1="92.87" x2="285.50" y2="92.87" stroke="#000" stroke-width="1.0"/>
<line x1="283.50" y1="91.42" x2="285.50" y2="91.42" stroke="#000" stroke-width="1.0"/>
<line x1="283.50" y1="90.14" x2="285.50" y2="90.14" stroke="#000" stroke-width="1.0"/>
<line x1="282.00" y1="89.00" x2="285.50" y2="89.00" stroke="#000" stroke-width="1.3"/>
<line x1="283.50" y1="81.47" x2="285.50" y2="81.47" stroke="#000" stroke-width="1.0"/>
<line x1="283.50" y1="77.07" x2="285.50" y2="77.07" stroke="#000" stroke-width="1.0"/>
<line x1="283.50" y1="73.95" x2="285.50" y2="73.95" stroke="#000" stroke-width="1.0"/>
<line x1="283.50" y1="71.53" x2="285.50" y2="71.53" stroke="#000" stroke-width="1.0"/>
<line x1="283.50" y1="69.55" x2="285.50" y2="69.55" stroke="#000" stroke-width="1.0"/>
<line x1="283.50" y1="67.87" x2="285.50" y2="67.87" stroke="#000" stroke-width="1.0"/>
<line x1="283.50" y1="66.42" x2="285.50" y2="66.42" stroke="#000" stroke-width="1.0"/>
<line x1="283.50" y1="65.14" x2="285.50" y2="65.14" stroke="#000" stroke-width="1.0"/>
<line x1="282.00" y1="64.00" x2="285.50" y2="64.00" stroke="#000" stroke-width="1.3"/>
<line x1="283.50" y1="56.47" x2="285.50" y2="56.47" stroke="#000" stroke-width="1.0"/>
<line x1="283.50" y1="52.07" x2="285.50" y2="52.07" stroke="#000" stroke-width="1.0"/>
<line x1="283.50" y1="48.95" x2="285.50" y2="48.95" stroke="#000" stroke-width="1.0"/>
<line x1="283.50" y1="46.53" x2="285.50" y2="46.53" stroke="#000" stroke-width="1.0"/>
<line x1="283.50" y1="44.55" x2="285.50" y2="44.55" stroke="#000" stroke-width="1.0"/>
<line x1="283.50" y1="42.87" x2="285.50" y2="42.87" stroke="#000" stroke-width="1.0"/>
<line x1="283.50" y1="41.42" x2="285.50" y2="41.42" stroke="#000" stroke-width="1.0"/>
<line x1="283.50" y1="40.14" x2="285.50" y2="40.14" stroke="#000" stroke-width="1.0"/>
<line x1="282.00" y1="39.00" x2="285.50" y2="39.00" stroke="#000" stroke-width="1.3"/>
<line x1="285.50" y1="139.00" x2="285.50" y2="142.50" stroke="#000" stroke-width="1.3"/>
<line x1="293.18" y1="139.00" x2="293.18" y2="141.00" stroke="#000" stroke-width="1.0"/>
<line x1="297.67" y1="139.00" x2="297.67" y2="141.00" stroke="#000" stroke-width="1.0"/>
<line x1="300.85" y1="139.00" x2="300.85" y2="141.00" stroke="#000" stroke-width="1.0"/>
<line x1="303.32" y1="139.00" x2="303.32" y2="141.00" stroke="#000" stroke-width="1.0"/>
<line x1="305.34" y1="139.00" x2="305.34" y2="141.00" stroke="#000" stroke-width="1.0"/>
<line x1="307.05" y1="139.00" x2="307.05" y2="141.00" stroke="#000" stroke-width="1.0"/>
<line x1="308.53" y1="139.00" x2="308.53" y2="141.00" stroke="#000" stroke-width="1.0"/>
<line x1="309.83" y1="139.00" x2="309.83" y2="141.00" stroke="#000" stroke-width="1.0"/>
<line x1="311.00" y1="139.00" x2="311.00" y2="142.50" stroke="#000" stroke-width="1.3"/>
<line x1="318.68" y1="139.00" x2="318.68" y2="141.00" stroke="#000" stroke-width="1.0"/>
<line x1="323.17" y1="139.00" x2="323.17" y2="141.00" stroke="#000" stroke-width="1.0"/>
<line x1="326.35" y1="139.00" x2="326.35" y2="141.00" stroke="#000" stroke-width="1.0"/>
<line x1="328.82" y1="139.00" x2="328.82" y2="141.00" stroke="#000" stroke-width="1.0"/>
<line x1="330.84" y1="139.00" x2="330.84" y2="141.00" stroke="#000" stroke-width="1.0"/>
<line x1="332.55" y1="139.00" x2="332.55" y2="141.00" stroke="#000" stroke-width="1.0"/>
<line x1="334.03" y1="139.00" x2="334.03" y2="141.00" stroke="#000" stroke-width="1.0"/>
<line x1="335.33" y1="139.00" x2="335.33" y2="141.00" stroke="#000" stroke-width="1.0"/>
<line x1="336.50" y1="139.00" x2="336.50" y2="142.50" stroke="#000" stroke-width="1.3"/>
<line x1="344.18" y1="139.00" x2="344.18" y2="141.00" stroke="#000" stroke-width="1.0"/>
<line x1="348.67" y1="139.00" x2="348.67" y2="141.00" stroke="#000" stroke-width="1.0"/>
<line x1="351.85" y1="139.00" x2="351.85" y2="141.00" stroke="#000" stroke-width="1.0"/>
<line x1="354.32" y1="139.00" x2="354.32" y2="141.00" stroke="#000" stroke-width="1.0"/>
<line x1="356.34" y1="139.00" x2="356.34" y2="141.00" stroke="#000" stroke-width="1.0"/>
<line x1="358.05" y1="139.00" x2="358.05" y2="141.00" stroke="#000" stroke-width="1.0"/>
<line x1="359.53" y1="139.00" x2="359.53" y2="141.00" stroke="#000" stroke-width="1.0"/>
<line x1="360.83" y1="139.00" x2="360.83" y2="141.00" stroke="#000" stroke-width="1.0"/>
<line x1="362.00" y1="139.00" x2="362.00" y2="142.50" stroke="#000" stroke-width="1.3"/>
<line x1="369.68" y1="139.00" x2="369.68" y2="141.00" stroke="#000" stroke-width="1.0"/>
<line x1="374.17" y1="139.00" x2="374.17" y2="141.00" stroke="#000" stroke-width="1.0"/>
<line x1="377.35" y1="139.00" x2="377.35" y2="141.00" stroke="#000" stroke-width="1.0"/>
<line x1="379.82" y1="139.00" x2="379.82" y2="141.00" stroke="#000" stroke-width="1.0"/>
<line x1="381.84" y1="139.00" x2="381.84" y2="141.00" stroke="#000" stroke-width="1.0"/>
<line x1="383.55" y1="139.00" x2="383.55" y2="141.00" stroke="#000" stroke-width="1.0"/>
<line x1="385.03" y1="139.00" x2="385.03" y2="141.00" stroke="#000" stroke-width="1.0"/>
<line x1="386.33" y1="139.00" x2="386.33" y2="141.00" stroke="#000" stroke-width="1.0"/>
<line x1="387.50" y1="139.00" x2="387.50" y2="142.50" stroke="#000" stroke-width="1.3"/>
<text x="179.80" y="63.88" font-size="12.16" font-weight="bold" textLength="36.21" lengthAdjust="spacingAndGlyphs" stroke="#000" stroke-width="0.1" >89.8 %</text>
<text x="219.70" y="127.87" font-size="12.58" font-weight="bold" textLength="25.29" lengthAdjust="spacingAndGlyphs" stroke="#000" stroke-width="0.1" >1.8%</text>
<text x="315.30" y="63.78" font-size="12.16" font-weight="bold" textLength="36.51" lengthAdjust="spacingAndGlyphs" stroke="#000" stroke-width="0.1" >91.5 %</text>
<text x="359.30" y="124.51" font-size="12.20" font-weight="bold" textLength="26.19" lengthAdjust="spacingAndGlyphs" stroke="#000" stroke-width="0.1" >2.4%</text>
<text x="140.70" y="151.90" font-size="9.61" textLength="8.80" lengthAdjust="spacingAndGlyphs" stroke="#000" stroke-width="0.45" >10</text>
<text x="150.50" y="146.92" font-size="8.20" textLength="4.61" lengthAdjust="spacingAndGlyphs" stroke="#000" stroke-width="0.4" >0</text>
<text x="164.90" y="151.90" font-size="9.61" textLength="9.30" lengthAdjust="spacingAndGlyphs" stroke="#000" stroke-width="0.45" >10</text>
<text x="175.20" y="147.00" font-size="8.44" textLength="4.61" lengthAdjust="spacingAndGlyphs" stroke="#000" stroke-width="0.4" >1</text>
<text x="190.20" y="151.90" font-size="9.61" textLength="9.00" lengthAdjust="spacingAndGlyphs" stroke="#000" stroke-width="0.45" >10</text>
<text x="200.20" y="147.00" font-size="8.32" textLength="4.61" lengthAdjust="spacingAndGlyphs" stroke="#000" stroke-width="0.4" >2</text>
<text x="216.00" y="151.90" font-size="9.61" textLength="9.40" lengthAdjust="spacingAndGlyphs" stroke="#000" stroke-width="0.45" >10</text>
<text x="226.40" y="146.92" font-size="8.20" textLength="4.61" lengthAdjust="spacingAndGlyphs" stroke="#000" stroke-width="0.4" >3</text>
<text x="241.30" y="151.90" font-size="9.61" textLength="9.40" lengthAdjust="spacingAndGlyphs" stroke="#000" stroke-width="0.45" >10</text>
<text x="251.70" y="147.00" font-size="8.44" textLength="4.61" lengthAdjust="spacingAndGlyphs" stroke="#000" stroke-width="0.4" >4</text>
<text x="278.50" y="152.80" font-size="10.32" textLength="9.20" lengthAdjust="spacingAndGlyphs" stroke="#000" stroke-width="0.45" >10</text>
<text x="288.70" y="147.32" font-size="8.20" textLength="4.61" lengthAdjust="spacingAndGlyphs" stroke="#000" stroke-width="0.4" >0</text>
<text x="303.80" y="152.80" font-size="10.32" textLength="9.80" lengthAdjust="spacingAndGlyphs" stroke="#000" stroke-width="0.45" >10</text>
<text x="314.60" y="147.40" font-size="8.44" textLength="4.61" lengthAdjust="spacingAndGlyphs" stroke="#000" stroke-width="0.4" >1</text>
<text x="329.40" y="152.80" font-size="10.32" textLength="9.60" lengthAdjust="spacingAndGlyphs" stroke="#000" stroke-width="0.45" >10</text>
<text x="340.00" y="147.40" font-size="8.32" textLength="4.61" lengthAdjust="spacingAndGlyphs" stroke="#000" stroke-width="0.4" >2</text>
<text x="354.00" y="152.80" font-size="10.32" textLength="10.00" lengthAdjust="spacingAndGlyphs" stroke="#000" stroke-width="0.45" >10</text>
<text x="365.00" y="147.32" font-size="8.20" textLength="4.61" lengthAdjust="spacingAndGlyphs" stroke="#000" stroke-width="0.4" >3</text>
<text x="378.80" y="152.80" font-size="10.32" textLength="9.60" lengthAdjust="spacingAndGlyphs" stroke="#000" stroke-width="0.45" >10</text>
<text x="389.40" y="147.40" font-size="8.44" textLength="4.61" lengthAdjust="spacingAndGlyphs" stroke="#000" stroke-width="0.4" >4</text>
<text transform="translate(132.50,146.40) rotate(-90)" x="0.00" y="7.20" font-size="10.32" textLength="11.80" lengthAdjust="spacingAndGlyphs" stroke="#000" stroke-width="0.35">10</text>
<text transform="translate(127.30,133.70) rotate(-90)" x="0.00" y="7.20" font-size="10.32" textLength="4.51" lengthAdjust="spacingAndGlyphs" stroke="#000" stroke-width="0.3">0</text>
<text transform="translate(132.50,122.00) rotate(-90)" x="0.00" y="7.20" font-size="10.32" textLength="11.20" lengthAdjust="spacingAndGlyphs" stroke="#000" stroke-width="0.35">10</text>
<text transform="translate(127.30,108.50) rotate(-90)" x="0.00" y="7.30" font-size="10.62" textLength="2.71" lengthAdjust="spacingAndGlyphs" stroke="#000" stroke-width="0.3">1</text>
<text transform="translate(132.50,98.40) rotate(-90)" x="0.00" y="7.20" font-size="10.32" textLength="11.10" lengthAdjust="spacingAndGlyphs" stroke="#000" stroke-width="0.35">10</text>
<text transform="translate(127.30,86.00) rotate(-90)" x="0.00" y="7.30" font-size="10.47" textLength="5.71" lengthAdjust="spacingAndGlyphs" stroke="#000" stroke-width="0.3">2</text>
<text transform="translate(132.50,73.80) rotate(-90)" x="0.00" y="7.20" font-size="10.32" textLength="10.70" lengthAdjust="spacingAndGlyphs" stroke="#000" stroke-width="0.35">10</text>
<text transform="translate(127.30,59.80) rotate(-90)" x="0.00" y="7.20" font-size="10.32" textLength="4.91" lengthAdjust="spacingAndGlyphs" stroke="#000" stroke-width="0.3">3</text>
<text transform="translate(132.50,47.70) rotate(-90)" x="0.00" y="7.20" font-size="10.32" textLength="9.50" lengthAdjust="spacingAndGlyphs" stroke="#000" stroke-width="0.35">10</text>
<text transform="translate(127.30,35.90) rotate(-90)" x="0.00" y="7.30" font-size="10.62" textLength="4.81" lengthAdjust="spacingAndGlyphs" stroke="#000" stroke-width="0.3">4</text>
<text transform="translate(272.80,146.00) rotate(-90)" x="0.00" y="6.21" font-size="8.90" textLength="9.30" lengthAdjust="spacingAndGlyphs" stroke="#000" stroke-width="0.35">10</text>
<text transform="translate(266.60,135.60) rotate(-90)" x="0.00" y="7.10" font-size="10.18" textLength="5.11" lengthAdjust="spacingAndGlyphs" stroke="#000" stroke-width="0.3">0</text>
<text transform="translate(272.80,121.20) rotate(-90)" x="0.00" y="6.21" font-size="8.90" textLength="8.80" lengthAdjust="spacingAndGlyphs" stroke="#000" stroke-width="0.35">10</text>
<text transform="translate(266.60,108.20) rotate(-90)" x="0.00" y="7.20" font-size="10.47" textLength="1.50" lengthAdjust="spacingAndGlyphs" stroke="#000" stroke-width="0.3">1</text>
<text transform="translate(272.80,96.90) rotate(-90)" x="0.00" y="6.21" font-size="8.90" textLength="9.30" lengthAdjust="spacingAndGlyphs" stroke="#000" stroke-width="0.35">10</text>
<text transform="translate(266.60,86.00) rotate(-90)" x="0.00" y="7.20" font-size="10.32" textLength="5.41" lengthAdjust="spacingAndGlyphs" stroke="#000" stroke-width="0.3">2</text>
<text transform="translate(272.80,72.20) rotate(-90)" x="0.00" y="6.21" font-size="8.90" textLength="9.80" lengthAdjust="spacingAndGlyphs" stroke="#000" stroke-width="0.35">10</text>
<text transform="translate(266.60,61.40) rotate(-90)" x="0.00" y="7.10" font-size="10.18" textLength="5.91" lengthAdjust="spacingAndGlyphs" stroke="#000" stroke-width="0.3">3</text>
<text transform="translate(272.80,47.70) rotate(-90)" x="0.00" y="6.21" font-size="8.90" textLength="8.90" lengthAdjust="spacingAndGlyphs" stroke="#000" stroke-width="0.35">10</text>
<text transform="translate(266.60,36.80) rotate(-90)" x="0.00" y="7.20" font-size="10.47" textLength="4.91" lengthAdjust="spacingAndGlyphs" stroke="#000" stroke-width="0.3">4</text>
<text x="85.40" y="84.66" font-size="14.05" textLength="27.10" lengthAdjust="spacingAndGlyphs" stroke="#000" stroke-width="0.25" >DX5</text>
<text x="205.60" y="180.85" font-size="14.98" textLength="27.41" lengthAdjust="spacingAndGlyphs" stroke="#000" stroke-width="0.25" >CD3</text>
<path d="M111.9 173.2 V112" stroke="#000" stroke-width="1.8" fill="none"/>
<path d="M111 172.3 H176" stroke="#000" stroke-width="1.9" fill="none"/>
<path d="M111.2 97.5 L104.4 114.4 L118 114.4 Z" fill="#000"/>
<path d="M192.2 172 L175 165.6 L175 178.4 Z" fill="#000"/>
<rect x="428" y="165.5" width="89" height="53" fill="none" stroke="#000" stroke-width="1.6"/>
<line x1="433.00" y1="178.30" x2="464.00" y2="178.30" stroke="#000" stroke-width="1.5"/>
<circle cx="447.3" cy="177.6" r="3.1" fill="#000"/>
<line x1="433.00" y1="201.90" x2="464.00" y2="201.90" stroke="#000" stroke-width="1.5"/>
<circle cx="447.3" cy="201.4" r="2.7" fill="#fff" stroke="#000" stroke-width="1.3"/>
<path d="M473.5 182.3 H481.2 M477.35 178.4 V186.3 M490.8 182.3 H498.6 M494.7 178.4 V186.3 M483.4 186.5 L489.2 175" stroke="#000" stroke-width="1.5" fill="none"/>
<path d="M477 205.3 H481.6 M490.6 205.3 H495 M483.5 210.3 L489.2 199.2" stroke="#000" stroke-width="1.5" fill="none"/>
<text x="1.20" y="230.10" font-size="28.22" font-weight="bold" textLength="16.49" lengthAdjust="spacingAndGlyphs" stroke="#000" stroke-width="0.7" >B</text>
<text x="274.70" y="220.82" font-size="14.37" textLength="44.78" lengthAdjust="spacingAndGlyphs" stroke="#000" stroke-width="0.25" >Spleen</text>
<text x="282.80" y="410.97" font-size="13.33" textLength="29.70" lengthAdjust="spacingAndGlyphs" stroke="#000" stroke-width="0.25" >Liver</text>
<line x1="71.60" y1="237.20" x2="71.60" y2="383.80" stroke="#000" stroke-width="1.55"/>
<line x1="67.40" y1="341.70" x2="71.60" y2="341.70" stroke="#000" stroke-width="1.4"/>
<line x1="67.40" y1="300.40" x2="71.60" y2="300.40" stroke="#000" stroke-width="1.4"/>
<line x1="67.40" y1="257.90" x2="71.60" y2="257.90" stroke="#000" stroke-width="1.4"/>
<line x1="67.40" y1="383.00" x2="186.00" y2="383.00" stroke="#000" stroke-width="1.6"/>
<line x1="80.10" y1="383.00" x2="80.10" y2="387.00" stroke="#000" stroke-width="1.4"/>
<line x1="97.20" y1="383.00" x2="97.20" y2="387.00" stroke="#000" stroke-width="1.4"/>
<line x1="114.30" y1="383.00" x2="114.30" y2="387.00" stroke="#000" stroke-width="1.4"/>
<line x1="131.40" y1="383.00" x2="131.40" y2="387.00" stroke="#000" stroke-width="1.4"/>
<line x1="148.50" y1="383.00" x2="148.50" y2="387.00" stroke="#000" stroke-width="1.4"/>
<line x1="165.60" y1="383.00" x2="165.60" y2="387.00" stroke="#000" stroke-width="1.4"/>
<line x1="184.00" y1="237.20" x2="184.00" y2="383.80" stroke="#000" stroke-width="1.55"/>
<line x1="179.80" y1="341.70" x2="184.00" y2="341.70" stroke="#000" stroke-width="1.4"/>
<line x1="179.80" y1="300.40" x2="184.00" y2="300.40" stroke="#000" stroke-width="1.4"/>
<line x1="179.80" y1="257.90" x2="184.00" y2="257.90" stroke="#000" stroke-width="1.4"/>
<line x1="179.80" y1="383.00" x2="286.00" y2="383.00" stroke="#000" stroke-width="1.6"/>
<line x1="192.50" y1="383.00" x2="192.50" y2="387.00" stroke="#000" stroke-width="1.4"/>
<line x1="209.60" y1="383.00" x2="209.60" y2="387.00" stroke="#000" stroke-width="1.4"/>
<line x1="226.70" y1="383.00" x2="226.70" y2="387.00" stroke="#000" stroke-width="1.4"/>
<line x1="243.80" y1="383.00" x2="243.80" y2="387.00" stroke="#000" stroke-width="1.4"/>
<line x1="260.90" y1="383.00" x2="260.90" y2="387.00" stroke="#000" stroke-width="1.4"/>
<line x1="278.00" y1="383.00" x2="278.00" y2="387.00" stroke="#000" stroke-width="1.4"/>
<line x1="296.50" y1="237.20" x2="296.50" y2="383.80" stroke="#000" stroke-width="1.55"/>
<line x1="292.30" y1="341.70" x2="296.50" y2="341.70" stroke="#000" stroke-width="1.4"/>
<line x1="292.30" y1="300.40" x2="296.50" y2="300.40" stroke="#000" stroke-width="1.4"/>
<line x1="292.30" y1="257.90" x2="296.50" y2="257.90" stroke="#000" stroke-width="1.4"/>
<line x1="292.30" y1="383.00" x2="398.50" y2="383.00" stroke="#000" stroke-width="1.6"/>
<line x1="305.00" y1="383.00" x2="305.00" y2="387.00" stroke="#000" stroke-width="1.4"/>
<line x1="322.10" y1="383.00" x2="322.10" y2="387.00" stroke="#000" stroke-width="1.4"/>
<line x1="339.20" y1="383.00" x2="339.20" y2="387.00" stroke="#000" stroke-width="1.4"/>
<line x1="356.30" y1="383.00" x2="356.30" y2="387.00" stroke="#000" stroke-width="1.4"/>
<line x1="373.40" y1="383.00" x2="373.40" y2="387.00" stroke="#000" stroke-width="1.4"/>
<line x1="390.50" y1="383.00" x2="390.50" y2="387.00" stroke="#000" stroke-width="1.4"/>
<line x1="411.50" y1="237.20" x2="411.50" y2="383.80" stroke="#000" stroke-width="1.55"/>
<line x1="407.30" y1="341.70" x2="411.50" y2="341.70" stroke="#000" stroke-width="1.4"/>
<line x1="407.30" y1="300.40" x2="411.50" y2="300.40" stroke="#000" stroke-width="1.4"/>
<line x1="407.30" y1="257.90" x2="411.50" y2="257.90" stroke="#000" stroke-width="1.4"/>
<line x1="407.30" y1="383.00" x2="513.50" y2="383.00" stroke="#000" stroke-width="1.6"/>
<line x1="420.00" y1="383.00" x2="420.00" y2="387.00" stroke="#000" stroke-width="1.4"/>
<line x1="437.10" y1="383.00" x2="437.10" y2="387.00" stroke="#000" stroke-width="1.4"/>
<line x1="454.20" y1="383.00" x2="454.20" y2="387.00" stroke="#000" stroke-width="1.4"/>
<line x1="471.30" y1="383.00" x2="471.30" y2="387.00" stroke="#000" stroke-width="1.4"/>
<line x1="488.40" y1="383.00" x2="488.40" y2="387.00" stroke="#000" stroke-width="1.4"/>
<line x1="505.50" y1="383.00" x2="505.50" y2="387.00" stroke="#000" stroke-width="1.4"/>
<line x1="71.60" y1="416.30" x2="71.60" y2="563.00" stroke="#000" stroke-width="1.55"/>
<line x1="67.40" y1="520.90" x2="71.60" y2="520.90" stroke="#000" stroke-width="1.4"/>
<line x1="67.40" y1="479.60" x2="71.60" y2="479.60" stroke="#000" stroke-width="1.4"/>
<line x1="67.40" y1="438.30" x2="71.60" y2="438.30" stroke="#000" stroke-width="1.4"/>
<line x1="67.40" y1="562.20" x2="173.60" y2="562.20" stroke="#000" stroke-width="1.6"/>
<line x1="80.10" y1="562.20" x2="80.10" y2="566.20" stroke="#000" stroke-width="1.4"/>
<line x1="97.20" y1="562.20" x2="97.20" y2="566.20" stroke="#000" stroke-width="1.4"/>
<line x1="114.30" y1="562.20" x2="114.30" y2="566.20" stroke="#000" stroke-width="1.4"/>
<line x1="131.40" y1="562.20" x2="131.40" y2="566.20" stroke="#000" stroke-width="1.4"/>
<line x1="148.50" y1="562.20" x2="148.50" y2="566.20" stroke="#000" stroke-width="1.4"/>
<line x1="165.60" y1="562.20" x2="165.60" y2="566.20" stroke="#000" stroke-width="1.4"/>
<line x1="184.00" y1="416.30" x2="184.00" y2="563.00" stroke="#000" stroke-width="1.55"/>
<line x1="179.80" y1="520.90" x2="184.00" y2="520.90" stroke="#000" stroke-width="1.4"/>
<line x1="179.80" y1="479.60" x2="184.00" y2="479.60" stroke="#000" stroke-width="1.4"/>
<line x1="179.80" y1="438.30" x2="184.00" y2="438.30" stroke="#000" stroke-width="1.4"/>
<line x1="179.80" y1="562.20" x2="286.00" y2="562.20" stroke="#000" stroke-width="1.6"/>
<line x1="192.50" y1="562.20" x2="192.50" y2="566.20" stroke="#000" stroke-width="1.4"/>
<line x1="209.60" y1="562.20" x2="209.60" y2="566.20" stroke="#000" stroke-width="1.4"/>
<line x1="226.70" y1="562.20" x2="226.70" y2="566.20" stroke="#000" stroke-width="1.4"/>
<line x1="243.80" y1="562.20" x2="243.80" y2="566.20" stroke="#000" stroke-width="1.4"/>
<line x1="260.90" y1="562.20" x2="260.90" y2="566.20" stroke="#000" stroke-width="1.4"/>
<line x1="278.00" y1="562.20" x2="278.00" y2="566.20" stroke="#000" stroke-width="1.4"/>
<line x1="296.50" y1="416.30" x2="296.50" y2="563.00" stroke="#000" stroke-width="1.55"/>
<line x1="292.30" y1="520.90" x2="296.50" y2="520.90" stroke="#000" stroke-width="1.4"/>
<line x1="292.30" y1="479.60" x2="296.50" y2="479.60" stroke="#000" stroke-width="1.4"/>
<line x1="292.30" y1="438.30" x2="296.50" y2="438.30" stroke="#000" stroke-width="1.4"/>
<line x1="292.30" y1="562.20" x2="398.50" y2="562.20" stroke="#000" stroke-width="1.6"/>
<line x1="305.00" y1="562.20" x2="305.00" y2="566.20" stroke="#000" stroke-width="1.4"/>
<line x1="322.10" y1="562.20" x2="322.10" y2="566.20" stroke="#000" stroke-width="1.4"/>
<line x1="339.20" y1="562.20" x2="339.20" y2="566.20" stroke="#000" stroke-width="1.4"/>
<line x1="356.30" y1="562.20" x2="356.30" y2="566.20" stroke="#000" stroke-width="1.4"/>
<line x1="373.40" y1="562.20" x2="373.40" y2="566.20" stroke="#000" stroke-width="1.4"/>
<line x1="390.50" y1="562.20" x2="390.50" y2="566.20" stroke="#000" stroke-width="1.4"/>
<line x1="411.50" y1="416.30" x2="411.50" y2="563.00" stroke="#000" stroke-width="1.55"/>
<line x1="407.30" y1="520.90" x2="411.50" y2="520.90" stroke="#000" stroke-width="1.4"/>
<line x1="407.30" y1="479.60" x2="411.50" y2="479.60" stroke="#000" stroke-width="1.4"/>
<line x1="407.30" y1="438.30" x2="411.50" y2="438.30" stroke="#000" stroke-width="1.4"/>
<line x1="407.30" y1="562.20" x2="513.50" y2="562.20" stroke="#000" stroke-width="1.6"/>
<line x1="420.00" y1="562.20" x2="420.00" y2="566.20" stroke="#000" stroke-width="1.4"/>
<line x1="437.10" y1="562.20" x2="437.10" y2="566.20" stroke="#000" stroke-width="1.4"/>
<line x1="454.20" y1="562.20" x2="454.20" y2="566.20" stroke="#000" stroke-width="1.4"/>
<line x1="471.30" y1="562.20" x2="471.30" y2="566.20" stroke="#000" stroke-width="1.4"/>
<line x1="488.40" y1="562.20" x2="488.40" y2="566.20" stroke="#000" stroke-width="1.4"/>
<line x1="505.50" y1="562.20" x2="505.50" y2="566.20" stroke="#000" stroke-width="1.4"/>
<text x="75.10" y="253.76" font-size="13.88" textLength="50.09" lengthAdjust="spacingAndGlyphs" stroke="#000" stroke-width="0.25" >Medium</text>
<text x="187.90" y="256.20" font-size="14.48" textLength="31.69" lengthAdjust="spacingAndGlyphs" stroke="#000" stroke-width="0.25" >IL-12</text>
<text x="302.80" y="254.96" font-size="14.42" textLength="31.19" lengthAdjust="spacingAndGlyphs" stroke="#000" stroke-width="0.25" >IL-18</text>
<text x="417.00" y="256.30" font-size="14.91" textLength="23.11" lengthAdjust="spacingAndGlyphs" stroke="#000" stroke-width="0.25" >IL-2</text>
<text x="45.90" y="263.56" font-size="13.85" textLength="14.70" lengthAdjust="spacingAndGlyphs" stroke="#000" stroke-width="0.25" >60</text>
<text x="46.10" y="301.46" font-size="13.85" textLength="14.70" lengthAdjust="spacingAndGlyphs" stroke="#000" stroke-width="0.25" >40</text>
<text x="46.40" y="346.06" font-size="13.85" textLength="14.70" lengthAdjust="spacingAndGlyphs" stroke="#000" stroke-width="0.25" >20</text>
<text x="57.20" y="388.35" font-size="14.56" textLength="6.91" lengthAdjust="spacingAndGlyphs" stroke="#000" stroke-width="0.25" >0</text>
<text x="43.90" y="443.05" font-size="14.84" textLength="15.20" lengthAdjust="spacingAndGlyphs" stroke="#000" stroke-width="0.25" >60</text>
<text x="44.40" y="484.06" font-size="14.13" textLength="15.00" lengthAdjust="spacingAndGlyphs" stroke="#000" stroke-width="0.25" >40</text>
<text x="44.00" y="527.06" font-size="13.71" textLength="14.80" lengthAdjust="spacingAndGlyphs" stroke="#000" stroke-width="0.25" >20</text>
<text x="56.20" y="567.46" font-size="13.71" textLength="6.91" lengthAdjust="spacingAndGlyphs" stroke="#000" stroke-width="0.25" >0</text>
<text x="78.00" y="579.80" font-size="9.75" font-weight="bold" textLength="4.81" lengthAdjust="spacingAndGlyphs" stroke="#000" stroke-width="0.45" >5</text>
<text x="87.50" y="579.80" font-size="9.61" font-weight="bold" textLength="12.60" lengthAdjust="spacingAndGlyphs" stroke="#000" stroke-width="0.45" >2.5</text>
<text x="105.60" y="579.90" font-size="9.75" font-weight="bold" textLength="12.80" lengthAdjust="spacingAndGlyphs" stroke="#000" stroke-width="0.45" >1.2</text>
<text x="123.80" y="579.80" font-size="9.61" font-weight="bold" textLength="12.60" lengthAdjust="spacingAndGlyphs" stroke="#000" stroke-width="0.45" >0.6</text>
<text x="141.80" y="579.78" font-size="9.58" font-weight="bold" textLength="12.40" lengthAdjust="spacingAndGlyphs" stroke="#000" stroke-width="0.45" >0.3</text>
<text x="160.20" y="579.80" font-size="9.61" font-weight="bold" textLength="17.19" lengthAdjust="spacingAndGlyphs" stroke="#000" stroke-width="0.45" >0.15</text>
<text x="190.40" y="579.80" font-size="9.75" font-weight="bold" textLength="4.81" lengthAdjust="spacingAndGlyphs" stroke="#000" stroke-width="0.45" >5</text>
<text x="199.90" y="579.80" font-size="9.61" font-weight="bold" textLength="12.60" lengthAdjust="spacingAndGlyphs" stroke="#000" stroke-width="0.45" >2.5</text>
<text x="218.00" y="579.90" font-size="9.75" font-weight="bold" textLength="12.80" lengthAdjust="spacingAndGlyphs" stroke="#000" stroke-width="0.45" >1.2</text>
<text x="236.20" y="579.80" font-size="9.61" font-weight="bold" textLength="12.60" lengthAdjust="spacingAndGlyphs" stroke="#000" stroke-width="0.45" >0.6</text>
<text x="254.20" y="579.78" font-size="9.58" font-weight="bold" textLength="12.40" lengthAdjust="spacingAndGlyphs" stroke="#000" stroke-width="0.45" >0.3</text>
<text x="272.60" y="579.80" font-size="9.61" font-weight="bold" textLength="17.19" lengthAdjust="spacingAndGlyphs" stroke="#000" stroke-width="0.45" >0.15</text>
<text x="302.90" y="579.80" font-size="9.75" font-weight="bold" textLength="4.81" lengthAdjust="spacingAndGlyphs" stroke="#000" stroke-width="0.45" >5</text>
<text x="312.40" y="579.80" font-size="9.61" font-weight="bold" textLength="12.60" lengthAdjust="spacingAndGlyphs" stroke="#000" stroke-width="0.45" >2.5</text>
<text x="330.50" y="579.90" font-size="9.75" font-weight="bold" textLength="12.80" lengthAdjust="spacingAndGlyphs" stroke="#000" stroke-width="0.45" >1.2</text>
<text x="348.70" y="579.80" font-size="9.61" font-weight="bold" textLength="12.60" lengthAdjust="spacingAndGlyphs" stroke="#000" stroke-width="0.45" >0.6</text>
<text x="366.70" y="579.78" font-size="9.58" font-weight="bold" textLength="12.40" lengthAdjust="spacingAndGlyphs" stroke="#000" stroke-width="0.45" >0.3</text>
<text x="385.10" y="579.80" font-size="9.61" font-weight="bold" textLength="17.19" lengthAdjust="spacingAndGlyphs" stroke="#000" stroke-width="0.45" >0.15</text>
<text x="417.90" y="579.80" font-size="9.75" font-weight="bold" textLength="4.81" lengthAdjust="spacingAndGlyphs" stroke="#000" stroke-width="0.45" >5</text>
<text x="427.40" y="579.80" font-size="9.61" font-weight="bold" textLength="12.60" lengthAdjust="spacingAndGlyphs" stroke="#000" stroke-width="0.45" >2.5</text>
<text x="445.50" y="579.90" font-size="9.75" font-weight="bold" textLength="12.80" lengthAdjust="spacingAndGlyphs" stroke="#000" stroke-width="0.45" >1.2</text>
<text x="463.70" y="579.80" font-size="9.61" font-weight="bold" textLength="12.60" lengthAdjust="spacingAndGlyphs" stroke="#000" stroke-width="0.45" >0.6</text>
<text x="481.70" y="579.78" font-size="9.58" font-weight="bold" textLength="12.40" lengthAdjust="spacingAndGlyphs" stroke="#000" stroke-width="0.45" >0.3</text>
<text x="500.10" y="579.80" font-size="9.61" font-weight="bold" textLength="17.19" lengthAdjust="spacingAndGlyphs" stroke="#000" stroke-width="0.45" >0.15</text>
<text transform="translate(13.90,418.80) rotate(-90)" x="0" y="0" font-size="17.88" textLength="56.31" lengthAdjust="spacingAndGlyphs" stroke="#000" stroke-width="0.4">% Lysis</text>
<text x="255.80" y="607.05" font-size="14.97" textLength="22.71" lengthAdjust="spacingAndGlyphs" stroke="#000" stroke-width="0.25" >E/T</text>
<text x="291.20" y="607.15" font-size="14.97" textLength="31.11" lengthAdjust="spacingAndGlyphs" stroke="#000" stroke-width="0.25" >ratio</text>
<polyline points="80.10,378.30 97.20,380.30 114.30,383.00 131.40,383.00 148.50,383.00 165.60,383.00" fill="none" stroke="#000" stroke-width="1.5" stroke-linejoin="round"/>
<polyline points="80.10,378.30 97.20,380.30 114.30,383.00 131.40,383.00 148.50,383.00 165.60,383.00" fill="none" stroke="#000" stroke-width="2.0" stroke-linejoin="round"/>
<rect x="76.65" y="374.85" width="6.9" height="6.9" fill="#fff" stroke="#000" stroke-width="1.5"/>
<rect x="93.75" y="376.85" width="6.9" height="6.9" fill="#fff" stroke="#000" stroke-width="1.5"/>
<rect x="110.85" y="379.55" width="6.9" height="6.9" fill="#fff" stroke="#000" stroke-width="1.5"/>
<rect x="127.95" y="379.55" width="6.9" height="6.9" fill="#fff" stroke="#000" stroke-width="1.5"/>
<rect x="145.05" y="379.55" width="6.9" height="6.9" fill="#fff" stroke="#000" stroke-width="1.5"/>
<rect x="162.15" y="379.55" width="6.9" height="6.9" fill="#fff" stroke="#000" stroke-width="1.5"/>
<rect x="75.90" y="374.10" width="8.4" height="8.4" fill="#000"/>
<rect x="93.00" y="376.10" width="8.4" height="8.4" fill="#000"/>
<rect x="110.10" y="378.80" width="8.4" height="8.4" fill="#000"/>
<rect x="127.20" y="378.80" width="8.4" height="8.4" fill="#000"/>
<rect x="144.30" y="378.80" width="8.4" height="8.4" fill="#000"/>
<rect x="161.40" y="378.80" width="8.4" height="8.4" fill="#000"/>
<polyline points="192.50,350.20 209.60,363.10 226.70,372.40 243.80,381.10 260.90,383.00 278.00,383.00" fill="none" stroke="#000" stroke-width="1.5" stroke-linejoin="round"/>
<polyline points="192.50,327.50 209.60,335.50 226.70,346.70 243.80,362.00 260.90,365.00 278.00,373.50" fill="none" stroke="#000" stroke-width="2.0" stroke-linejoin="round"/>
<rect x="189.55" y="347.25" width="5.9" height="5.9" fill="#fff" stroke="#000" stroke-width="1.5"/>
<rect x="206.65" y="360.15" width="5.9" height="5.9" fill="#fff" stroke="#000" stroke-width="1.5"/>
<rect x="223.75" y="369.45" width="5.9" height="5.9" fill="#fff" stroke="#000" stroke-width="1.5"/>
<rect x="240.85" y="378.15" width="5.9" height="5.9" fill="#fff" stroke="#000" stroke-width="1.5"/>
<rect x="257.95" y="380.05" width="5.9" height="5.9" fill="#fff" stroke="#000" stroke-width="1.5"/>
<rect x="275.05" y="380.05" width="5.9" height="5.9" fill="#fff" stroke="#000" stroke-width="1.5"/>
<rect x="188.80" y="323.80" width="7.4" height="7.4" fill="#000"/>
<rect x="205.90" y="331.80" width="7.4" height="7.4" fill="#000"/>
<rect x="223.00" y="343.00" width="7.4" height="7.4" fill="#000"/>
<rect x="240.10" y="358.30" width="7.4" height="7.4" fill="#000"/>
<rect x="257.20" y="361.30" width="7.4" height="7.4" fill="#000"/>
<rect x="274.30" y="369.80" width="7.4" height="7.4" fill="#000"/>
<polyline points="305.00,383.00 322.10,383.00 339.20,383.00 356.30,383.00 373.40,383.00 390.50,383.00" fill="none" stroke="#000" stroke-width="1.5" stroke-linejoin="round"/>
<polyline points="305.00,361.60 322.10,369.90 339.20,381.20 356.30,382.80 373.40,382.80 390.50,382.80" fill="none" stroke="#000" stroke-width="2.0" stroke-linejoin="round"/>
<rect x="302.25" y="380.25" width="5.5" height="5.5" fill="#fff" stroke="#000" stroke-width="1.5"/>
<rect x="319.35" y="380.25" width="5.5" height="5.5" fill="#fff" stroke="#000" stroke-width="1.5"/>
<rect x="336.45" y="380.25" width="5.5" height="5.5" fill="#fff" stroke="#000" stroke-width="1.5"/>
<rect x="353.55" y="380.25" width="5.5" height="5.5" fill="#fff" stroke="#000" stroke-width="1.5"/>
<rect x="370.65" y="380.25" width="5.5" height="5.5" fill="#fff" stroke="#000" stroke-width="1.5"/>
<rect x="387.75" y="380.25" width="5.5" height="5.5" fill="#fff" stroke="#000" stroke-width="1.5"/>
<rect x="301.50" y="358.10" width="7.0" height="7.0" fill="#000"/>
<rect x="318.60" y="366.40" width="7.0" height="7.0" fill="#000"/>
<rect x="335.70" y="377.70" width="7.0" height="7.0" fill="#000"/>
<rect x="352.80" y="379.30" width="7.0" height="7.0" fill="#000"/>
<rect x="369.90" y="379.30" width="7.0" height="7.0" fill="#000"/>
<rect x="387.00" y="379.30" width="7.0" height="7.0" fill="#000"/>
<polyline points="420.00,280.60 437.10,313.40 454.20,326.00 471.30,353.60 488.40,366.30 505.50,372.60" fill="none" stroke="#000" stroke-width="1.6" stroke-linejoin="round"/>
<polyline points="420.00,285.90 437.10,309.10 454.20,330.30 471.30,350.40 488.40,366.30 505.50,372.60" fill="none" stroke="#000" stroke-width="2.3" stroke-linejoin="round"/>
<rect x="417.05" y="277.65" width="5.9" height="5.9" fill="#fff" stroke="#000" stroke-width="1.5"/>
<rect x="434.15" y="310.45" width="5.9" height="5.9" fill="#fff" stroke="#000" stroke-width="1.5"/>
<rect x="451.25" y="323.05" width="5.9" height="5.9" fill="#fff" stroke="#000" stroke-width="1.5"/>
<rect x="468.35" y="350.65" width="5.9" height="5.9" fill="#fff" stroke="#000" stroke-width="1.5"/>
<rect x="485.45" y="363.35" width="5.9" height="5.9" fill="#fff" stroke="#000" stroke-width="1.5"/>
<rect x="502.55" y="369.65" width="5.9" height="5.9" fill="#fff" stroke="#000" stroke-width="1.5"/>
<rect x="416.30" y="282.20" width="7.4" height="7.4" fill="#000"/>
<rect x="433.40" y="305.40" width="7.4" height="7.4" fill="#000"/>
<rect x="450.50" y="326.60" width="7.4" height="7.4" fill="#000"/>
<rect x="467.60" y="346.70" width="7.4" height="7.4" fill="#000"/>
<rect x="484.70" y="362.60" width="7.4" height="7.4" fill="#000"/>
<rect x="501.80" y="368.90" width="7.4" height="7.4" fill="#000"/>
<polyline points="80.10,558.00 97.20,560.70 114.30,562.40 131.40,562.40 148.50,562.40 165.60,562.40" fill="none" stroke="#000" stroke-width="1.5" stroke-linejoin="round"/>
<polyline points="80.10,558.00 97.20,560.70 114.30,562.40 131.40,562.40 148.50,562.40 165.60,562.40" fill="none" stroke="#000" stroke-width="2.0" stroke-linejoin="round"/>
<circle cx="80.10" cy="558.00" r="3.15" fill="#fff" stroke="#000" stroke-width="1.4"/>
<circle cx="97.20" cy="560.70" r="3.15" fill="#fff" stroke="#000" stroke-width="1.4"/>
<circle cx="114.30" cy="562.40" r="3.15" fill="#fff" stroke="#000" stroke-width="1.4"/>
<circle cx="131.40" cy="562.40" r="3.15" fill="#fff" stroke="#000" stroke-width="1.4"/>
<circle cx="148.50" cy="562.40" r="3.15" fill="#fff" stroke="#000" stroke-width="1.4"/>
<circle cx="165.60" cy="562.40" r="3.15" fill="#fff" stroke="#000" stroke-width="1.4"/>
<circle cx="80.10" cy="558.00" r="3.6" fill="#000"/>
<circle cx="97.20" cy="560.70" r="3.6" fill="#000"/>
<circle cx="114.30" cy="562.40" r="3.6" fill="#000"/>
<circle cx="131.40" cy="562.40" r="3.6" fill="#000"/>
<circle cx="148.50" cy="562.40" r="3.6" fill="#000"/>
<circle cx="165.60" cy="562.40" r="3.6" fill="#000"/>
<line x1="192.00" y1="489.60" x2="192.00" y2="500.60" stroke="#000" stroke-width="1.2"/>
<line x1="189.25" y1="489.60" x2="194.75" y2="489.60" stroke="#000" stroke-width="1.4"/>
<line x1="189.25" y1="500.60" x2="194.75" y2="500.60" stroke="#000" stroke-width="1.4"/>
<polyline points="192.50,527.90 209.60,542.30 226.70,546.90 243.80,550.80 260.90,555.50 278.00,560.50" fill="none" stroke="#000" stroke-width="1.5" stroke-linejoin="round"/>
<polyline points="192.50,495.70 209.60,501.00 226.70,515.50 243.80,537.40 260.90,548.00 278.00,553.60" fill="none" stroke="#000" stroke-width="2.0" stroke-linejoin="round"/>
<circle cx="192.50" cy="527.90" r="3.15" fill="#fff" stroke="#000" stroke-width="1.4"/>
<circle cx="209.60" cy="542.30" r="3.15" fill="#fff" stroke="#000" stroke-width="1.4"/>
<circle cx="226.70" cy="546.90" r="3.15" fill="#fff" stroke="#000" stroke-width="1.4"/>
<circle cx="243.80" cy="550.80" r="3.15" fill="#fff" stroke="#000" stroke-width="1.4"/>
<circle cx="260.90" cy="555.50" r="3.15" fill="#fff" stroke="#000" stroke-width="1.4"/>
<circle cx="278.00" cy="560.50" r="3.15" fill="#fff" stroke="#000" stroke-width="1.4"/>
<circle cx="192.50" cy="495.70" r="3.6" fill="#000"/>
<circle cx="209.60" cy="501.00" r="3.6" fill="#000"/>
<circle cx="226.70" cy="515.50" r="3.6" fill="#000"/>
<circle cx="243.80" cy="537.40" r="3.6" fill="#000"/>
<circle cx="260.90" cy="548.00" r="3.6" fill="#000"/>
<circle cx="278.00" cy="553.60" r="3.6" fill="#000"/>
<polyline points="305.00,562.20 322.10,562.20 339.20,562.20 356.30,562.20 373.40,562.20 390.50,562.20" fill="none" stroke="#000" stroke-width="1.5" stroke-linejoin="round"/>
<polyline points="305.00,530.80 322.10,544.70 339.20,553.90 356.30,558.50 373.40,562.20 390.50,562.20" fill="none" stroke="#000" stroke-width="2.0" stroke-linejoin="round"/>
<circle cx="305.00" cy="562.20" r="3.15" fill="#fff" stroke="#000" stroke-width="1.4"/>
<circle cx="322.10" cy="562.20" r="3.15" fill="#fff" stroke="#000" stroke-width="1.4"/>
<circle cx="339.20" cy="562.20" r="3.15" fill="#fff" stroke="#000" stroke-width="1.4"/>
<circle cx="356.30" cy="562.20" r="3.15" fill="#fff" stroke="#000" stroke-width="1.4"/>
<circle cx="373.40" cy="562.20" r="3.15" fill="#fff" stroke="#000" stroke-width="1.4"/>
<circle cx="390.50" cy="562.20" r="3.15" fill="#fff" stroke="#000" stroke-width="1.4"/>
<circle cx="305.00" cy="530.80" r="3.6" fill="#000"/>
<circle cx="322.10" cy="544.70" r="3.6" fill="#000"/>
<circle cx="339.20" cy="553.90" r="3.6" fill="#000"/>
<circle cx="356.30" cy="558.50" r="3.6" fill="#000"/>
<circle cx="373.40" cy="562.20" r="3.6" fill="#000"/>
<circle cx="390.50" cy="562.20" r="3.6" fill="#000"/>
<line x1="420.20" y1="423.80" x2="420.20" y2="446.60" stroke="#000" stroke-width="1.2"/>
<line x1="417.45" y1="423.80" x2="422.95" y2="423.80" stroke="#000" stroke-width="1.4"/>
<line x1="417.45" y1="446.60" x2="422.95" y2="446.60" stroke="#000" stroke-width="1.4"/>
<line x1="420.20" y1="426.10" x2="420.20" y2="446.60" stroke="#000" stroke-width="1.2"/>
<line x1="417.45" y1="426.10" x2="422.95" y2="426.10" stroke="#000" stroke-width="1.4"/>
<line x1="417.45" y1="446.60" x2="422.95" y2="446.60" stroke="#000" stroke-width="1.4"/>
<line x1="436.80" y1="435.10" x2="436.80" y2="461.30" stroke="#000" stroke-width="1.2"/>
<line x1="434.05" y1="435.10" x2="439.55" y2="435.10" stroke="#000" stroke-width="1.4"/>
<line x1="434.05" y1="461.30" x2="439.55" y2="461.30" stroke="#000" stroke-width="1.4"/>
<line x1="436.80" y1="442.20" x2="436.80" y2="442.20" stroke="#000" stroke-width="1.2"/>
<line x1="434.05" y1="442.20" x2="439.55" y2="442.20" stroke="#000" stroke-width="1.4"/>
<line x1="434.05" y1="442.20" x2="439.55" y2="442.20" stroke="#000" stroke-width="1.4"/>
<line x1="454.00" y1="448.60" x2="454.00" y2="457.20" stroke="#000" stroke-width="1.2"/>
<line x1="451.25" y1="448.60" x2="456.75" y2="448.60" stroke="#000" stroke-width="1.4"/>
<line x1="451.25" y1="457.20" x2="456.75" y2="457.20" stroke="#000" stroke-width="1.4"/>
<line x1="470.70" y1="469.80" x2="470.70" y2="487.50" stroke="#000" stroke-width="1.2"/>
<line x1="467.95" y1="469.80" x2="473.45" y2="469.80" stroke="#000" stroke-width="1.4"/>
<line x1="467.95" y1="487.50" x2="473.45" y2="487.50" stroke="#000" stroke-width="1.4"/>
<polyline points="420.00,437.30 437.10,451.70 454.20,464.70 471.30,478.30 488.40,502.60 505.50,525.50" fill="none" stroke="#000" stroke-width="1.6" stroke-linejoin="round"/>
<polyline points="420.00,435.90 437.10,445.70 454.20,457.20 471.30,482.90 488.40,508.50 505.50,530.80" fill="none" stroke="#000" stroke-width="2.0" stroke-linejoin="round"/>
<circle cx="420.00" cy="437.30" r="3.15" fill="#fff" stroke="#000" stroke-width="1.4"/>
<circle cx="437.10" cy="451.70" r="3.15" fill="#fff" stroke="#000" stroke-width="1.4"/>
<circle cx="454.20" cy="464.70" r="3.15" fill="#fff" stroke="#000" stroke-width="1.4"/>
<circle cx="471.30" cy="478.30" r="3.15" fill="#fff" stroke="#000" stroke-width="1.4"/>
<circle cx="488.40" cy="502.60" r="3.15" fill="#fff" stroke="#000" stroke-width="1.4"/>
<circle cx="505.50" cy="525.50" r="3.15" fill="#fff" stroke="#000" stroke-width="1.4"/>
<circle cx="420.00" cy="435.90" r="3.6" fill="#000"/>
<circle cx="437.10" cy="445.70" r="3.6" fill="#000"/>
<circle cx="454.20" cy="457.20" r="3.6" fill="#000"/>
<circle cx="471.30" cy="482.90" r="3.6" fill="#000"/>
<circle cx="488.40" cy="508.50" r="3.6" fill="#000"/>
<circle cx="505.50" cy="530.80" r="3.6" fill="#000"/>
</svg>
</body></html>
